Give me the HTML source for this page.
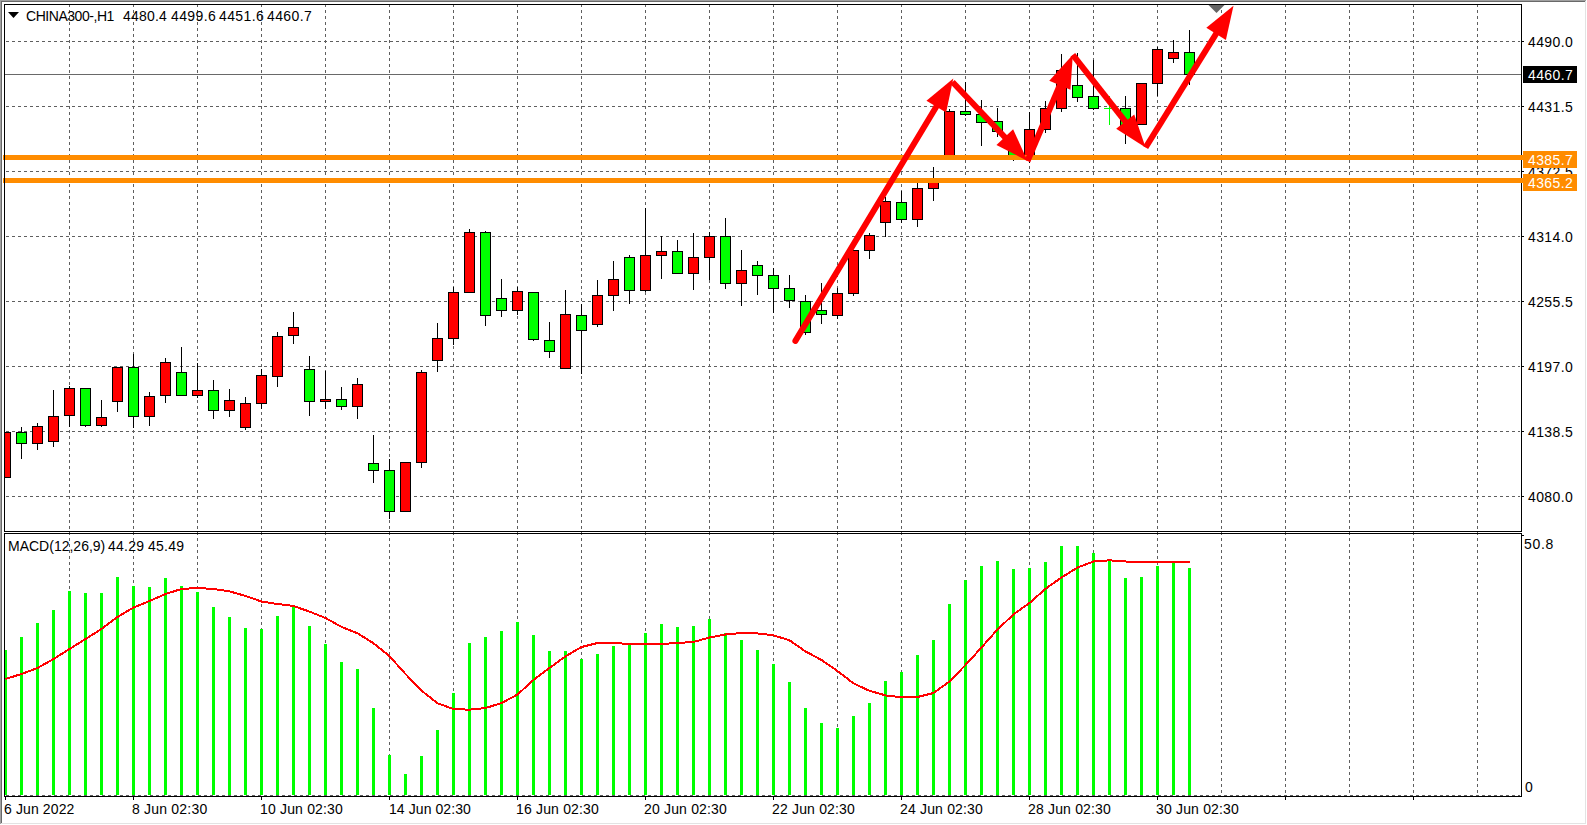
<!DOCTYPE html><html><head><meta charset="utf-8"><style>html,body{margin:0;padding:0;background:#fff;width:1587px;height:825px;overflow:hidden;position:relative}svg text{font-family:"Liberation Sans",sans-serif}</style></head><body><svg width="1587" height="825" viewBox="0 0 1587 825" shape-rendering="crispEdges" style="position:absolute;left:0;top:0">
<rect x="0" y="0" width="1587" height="825" fill="#fff"/>
<rect x="0" y="0" width="1586" height="1" fill="#a0a0a0"/>
<rect x="0" y="0" width="1" height="824" fill="#a0a0a0"/>
<rect x="1" y="1" width="1584" height="1" fill="#696969"/>
<rect x="1" y="1" width="1" height="822" fill="#696969"/>
<rect x="1" y="823" width="1585" height="1" fill="#e3e3e3"/>
<rect x="1585" y="1" width="1" height="823" fill="#e3e3e3"/>
<defs><clipPath id="cm"><rect x="5" y="5" width="1516" height="526"/></clipPath><clipPath id="cd"><rect x="5" y="534" width="1516" height="262"/></clipPath></defs>
<g clip-path="url(#cm)">
<path d="M6 41h3v1h-3zM12 41h3v1h-3zM18 41h3v1h-3zM24 41h3v1h-3zM30 41h3v1h-3zM36 41h3v1h-3zM42 41h3v1h-3zM48 41h3v1h-3zM54 41h3v1h-3zM60 41h3v1h-3zM66 41h3v1h-3zM72 41h3v1h-3zM78 41h3v1h-3zM84 41h3v1h-3zM90 41h3v1h-3zM96 41h3v1h-3zM102 41h3v1h-3zM108 41h3v1h-3zM114 41h3v1h-3zM120 41h3v1h-3zM126 41h3v1h-3zM132 41h3v1h-3zM138 41h3v1h-3zM144 41h3v1h-3zM150 41h3v1h-3zM156 41h3v1h-3zM162 41h3v1h-3zM168 41h3v1h-3zM174 41h3v1h-3zM180 41h3v1h-3zM186 41h3v1h-3zM192 41h3v1h-3zM198 41h3v1h-3zM204 41h3v1h-3zM210 41h3v1h-3zM216 41h3v1h-3zM222 41h3v1h-3zM228 41h3v1h-3zM234 41h3v1h-3zM240 41h3v1h-3zM246 41h3v1h-3zM252 41h3v1h-3zM258 41h3v1h-3zM264 41h3v1h-3zM270 41h3v1h-3zM276 41h3v1h-3zM282 41h3v1h-3zM288 41h3v1h-3zM294 41h3v1h-3zM300 41h3v1h-3zM306 41h3v1h-3zM312 41h3v1h-3zM318 41h3v1h-3zM324 41h3v1h-3zM330 41h3v1h-3zM336 41h3v1h-3zM342 41h3v1h-3zM348 41h3v1h-3zM354 41h3v1h-3zM360 41h3v1h-3zM366 41h3v1h-3zM372 41h3v1h-3zM378 41h3v1h-3zM384 41h3v1h-3zM390 41h3v1h-3zM396 41h3v1h-3zM402 41h3v1h-3zM408 41h3v1h-3zM414 41h3v1h-3zM420 41h3v1h-3zM426 41h3v1h-3zM432 41h3v1h-3zM438 41h3v1h-3zM444 41h3v1h-3zM450 41h3v1h-3zM456 41h3v1h-3zM462 41h3v1h-3zM468 41h3v1h-3zM474 41h3v1h-3zM480 41h3v1h-3zM486 41h3v1h-3zM492 41h3v1h-3zM498 41h3v1h-3zM504 41h3v1h-3zM510 41h3v1h-3zM516 41h3v1h-3zM522 41h3v1h-3zM528 41h3v1h-3zM534 41h3v1h-3zM540 41h3v1h-3zM546 41h3v1h-3zM552 41h3v1h-3zM558 41h3v1h-3zM564 41h3v1h-3zM570 41h3v1h-3zM576 41h3v1h-3zM582 41h3v1h-3zM588 41h3v1h-3zM594 41h3v1h-3zM600 41h3v1h-3zM606 41h3v1h-3zM612 41h3v1h-3zM618 41h3v1h-3zM624 41h3v1h-3zM630 41h3v1h-3zM636 41h3v1h-3zM642 41h3v1h-3zM648 41h3v1h-3zM654 41h3v1h-3zM660 41h3v1h-3zM666 41h3v1h-3zM672 41h3v1h-3zM678 41h3v1h-3zM684 41h3v1h-3zM690 41h3v1h-3zM696 41h3v1h-3zM702 41h3v1h-3zM708 41h3v1h-3zM714 41h3v1h-3zM720 41h3v1h-3zM726 41h3v1h-3zM732 41h3v1h-3zM738 41h3v1h-3zM744 41h3v1h-3zM750 41h3v1h-3zM756 41h3v1h-3zM762 41h3v1h-3zM768 41h3v1h-3zM774 41h3v1h-3zM780 41h3v1h-3zM786 41h3v1h-3zM792 41h3v1h-3zM798 41h3v1h-3zM804 41h3v1h-3zM810 41h3v1h-3zM816 41h3v1h-3zM822 41h3v1h-3zM828 41h3v1h-3zM834 41h3v1h-3zM840 41h3v1h-3zM846 41h3v1h-3zM852 41h3v1h-3zM858 41h3v1h-3zM864 41h3v1h-3zM870 41h3v1h-3zM876 41h3v1h-3zM882 41h3v1h-3zM888 41h3v1h-3zM894 41h3v1h-3zM900 41h3v1h-3zM906 41h3v1h-3zM912 41h3v1h-3zM918 41h3v1h-3zM924 41h3v1h-3zM930 41h3v1h-3zM936 41h3v1h-3zM942 41h3v1h-3zM948 41h3v1h-3zM954 41h3v1h-3zM960 41h3v1h-3zM966 41h3v1h-3zM972 41h3v1h-3zM978 41h3v1h-3zM984 41h3v1h-3zM990 41h3v1h-3zM996 41h3v1h-3zM1002 41h3v1h-3zM1008 41h3v1h-3zM1014 41h3v1h-3zM1020 41h3v1h-3zM1026 41h3v1h-3zM1032 41h3v1h-3zM1038 41h3v1h-3zM1044 41h3v1h-3zM1050 41h3v1h-3zM1056 41h3v1h-3zM1062 41h3v1h-3zM1068 41h3v1h-3zM1074 41h3v1h-3zM1080 41h3v1h-3zM1086 41h3v1h-3zM1092 41h3v1h-3zM1098 41h3v1h-3zM1104 41h3v1h-3zM1110 41h3v1h-3zM1116 41h3v1h-3zM1122 41h3v1h-3zM1128 41h3v1h-3zM1134 41h3v1h-3zM1140 41h3v1h-3zM1146 41h3v1h-3zM1152 41h3v1h-3zM1158 41h3v1h-3zM1164 41h3v1h-3zM1170 41h3v1h-3zM1176 41h3v1h-3zM1182 41h3v1h-3zM1188 41h3v1h-3zM1194 41h3v1h-3zM1200 41h3v1h-3zM1206 41h3v1h-3zM1212 41h3v1h-3zM1218 41h3v1h-3zM1224 41h3v1h-3zM1230 41h3v1h-3zM1236 41h3v1h-3zM1242 41h3v1h-3zM1248 41h3v1h-3zM1254 41h3v1h-3zM1260 41h3v1h-3zM1266 41h3v1h-3zM1272 41h3v1h-3zM1278 41h3v1h-3zM1284 41h3v1h-3zM1290 41h3v1h-3zM1296 41h3v1h-3zM1302 41h3v1h-3zM1308 41h3v1h-3zM1314 41h3v1h-3zM1320 41h3v1h-3zM1326 41h3v1h-3zM1332 41h3v1h-3zM1338 41h3v1h-3zM1344 41h3v1h-3zM1350 41h3v1h-3zM1356 41h3v1h-3zM1362 41h3v1h-3zM1368 41h3v1h-3zM1374 41h3v1h-3zM1380 41h3v1h-3zM1386 41h3v1h-3zM1392 41h3v1h-3zM1398 41h3v1h-3zM1404 41h3v1h-3zM1410 41h3v1h-3zM1416 41h3v1h-3zM1422 41h3v1h-3zM1428 41h3v1h-3zM1434 41h3v1h-3zM1440 41h3v1h-3zM1446 41h3v1h-3zM1452 41h3v1h-3zM1458 41h3v1h-3zM1464 41h3v1h-3zM1470 41h3v1h-3zM1476 41h3v1h-3zM1482 41h3v1h-3zM1488 41h3v1h-3zM1494 41h3v1h-3zM1500 41h3v1h-3zM1506 41h3v1h-3zM1512 41h3v1h-3zM1518 41h2v1h-2z" fill="#5f5f5f"/>
<path d="M6 106h3v1h-3zM12 106h3v1h-3zM18 106h3v1h-3zM24 106h3v1h-3zM30 106h3v1h-3zM36 106h3v1h-3zM42 106h3v1h-3zM48 106h3v1h-3zM54 106h3v1h-3zM60 106h3v1h-3zM66 106h3v1h-3zM72 106h3v1h-3zM78 106h3v1h-3zM84 106h3v1h-3zM90 106h3v1h-3zM96 106h3v1h-3zM102 106h3v1h-3zM108 106h3v1h-3zM114 106h3v1h-3zM120 106h3v1h-3zM126 106h3v1h-3zM132 106h3v1h-3zM138 106h3v1h-3zM144 106h3v1h-3zM150 106h3v1h-3zM156 106h3v1h-3zM162 106h3v1h-3zM168 106h3v1h-3zM174 106h3v1h-3zM180 106h3v1h-3zM186 106h3v1h-3zM192 106h3v1h-3zM198 106h3v1h-3zM204 106h3v1h-3zM210 106h3v1h-3zM216 106h3v1h-3zM222 106h3v1h-3zM228 106h3v1h-3zM234 106h3v1h-3zM240 106h3v1h-3zM246 106h3v1h-3zM252 106h3v1h-3zM258 106h3v1h-3zM264 106h3v1h-3zM270 106h3v1h-3zM276 106h3v1h-3zM282 106h3v1h-3zM288 106h3v1h-3zM294 106h3v1h-3zM300 106h3v1h-3zM306 106h3v1h-3zM312 106h3v1h-3zM318 106h3v1h-3zM324 106h3v1h-3zM330 106h3v1h-3zM336 106h3v1h-3zM342 106h3v1h-3zM348 106h3v1h-3zM354 106h3v1h-3zM360 106h3v1h-3zM366 106h3v1h-3zM372 106h3v1h-3zM378 106h3v1h-3zM384 106h3v1h-3zM390 106h3v1h-3zM396 106h3v1h-3zM402 106h3v1h-3zM408 106h3v1h-3zM414 106h3v1h-3zM420 106h3v1h-3zM426 106h3v1h-3zM432 106h3v1h-3zM438 106h3v1h-3zM444 106h3v1h-3zM450 106h3v1h-3zM456 106h3v1h-3zM462 106h3v1h-3zM468 106h3v1h-3zM474 106h3v1h-3zM480 106h3v1h-3zM486 106h3v1h-3zM492 106h3v1h-3zM498 106h3v1h-3zM504 106h3v1h-3zM510 106h3v1h-3zM516 106h3v1h-3zM522 106h3v1h-3zM528 106h3v1h-3zM534 106h3v1h-3zM540 106h3v1h-3zM546 106h3v1h-3zM552 106h3v1h-3zM558 106h3v1h-3zM564 106h3v1h-3zM570 106h3v1h-3zM576 106h3v1h-3zM582 106h3v1h-3zM588 106h3v1h-3zM594 106h3v1h-3zM600 106h3v1h-3zM606 106h3v1h-3zM612 106h3v1h-3zM618 106h3v1h-3zM624 106h3v1h-3zM630 106h3v1h-3zM636 106h3v1h-3zM642 106h3v1h-3zM648 106h3v1h-3zM654 106h3v1h-3zM660 106h3v1h-3zM666 106h3v1h-3zM672 106h3v1h-3zM678 106h3v1h-3zM684 106h3v1h-3zM690 106h3v1h-3zM696 106h3v1h-3zM702 106h3v1h-3zM708 106h3v1h-3zM714 106h3v1h-3zM720 106h3v1h-3zM726 106h3v1h-3zM732 106h3v1h-3zM738 106h3v1h-3zM744 106h3v1h-3zM750 106h3v1h-3zM756 106h3v1h-3zM762 106h3v1h-3zM768 106h3v1h-3zM774 106h3v1h-3zM780 106h3v1h-3zM786 106h3v1h-3zM792 106h3v1h-3zM798 106h3v1h-3zM804 106h3v1h-3zM810 106h3v1h-3zM816 106h3v1h-3zM822 106h3v1h-3zM828 106h3v1h-3zM834 106h3v1h-3zM840 106h3v1h-3zM846 106h3v1h-3zM852 106h3v1h-3zM858 106h3v1h-3zM864 106h3v1h-3zM870 106h3v1h-3zM876 106h3v1h-3zM882 106h3v1h-3zM888 106h3v1h-3zM894 106h3v1h-3zM900 106h3v1h-3zM906 106h3v1h-3zM912 106h3v1h-3zM918 106h3v1h-3zM924 106h3v1h-3zM930 106h3v1h-3zM936 106h3v1h-3zM942 106h3v1h-3zM948 106h3v1h-3zM954 106h3v1h-3zM960 106h3v1h-3zM966 106h3v1h-3zM972 106h3v1h-3zM978 106h3v1h-3zM984 106h3v1h-3zM990 106h3v1h-3zM996 106h3v1h-3zM1002 106h3v1h-3zM1008 106h3v1h-3zM1014 106h3v1h-3zM1020 106h3v1h-3zM1026 106h3v1h-3zM1032 106h3v1h-3zM1038 106h3v1h-3zM1044 106h3v1h-3zM1050 106h3v1h-3zM1056 106h3v1h-3zM1062 106h3v1h-3zM1068 106h3v1h-3zM1074 106h3v1h-3zM1080 106h3v1h-3zM1086 106h3v1h-3zM1092 106h3v1h-3zM1098 106h3v1h-3zM1104 106h3v1h-3zM1110 106h3v1h-3zM1116 106h3v1h-3zM1122 106h3v1h-3zM1128 106h3v1h-3zM1134 106h3v1h-3zM1140 106h3v1h-3zM1146 106h3v1h-3zM1152 106h3v1h-3zM1158 106h3v1h-3zM1164 106h3v1h-3zM1170 106h3v1h-3zM1176 106h3v1h-3zM1182 106h3v1h-3zM1188 106h3v1h-3zM1194 106h3v1h-3zM1200 106h3v1h-3zM1206 106h3v1h-3zM1212 106h3v1h-3zM1218 106h3v1h-3zM1224 106h3v1h-3zM1230 106h3v1h-3zM1236 106h3v1h-3zM1242 106h3v1h-3zM1248 106h3v1h-3zM1254 106h3v1h-3zM1260 106h3v1h-3zM1266 106h3v1h-3zM1272 106h3v1h-3zM1278 106h3v1h-3zM1284 106h3v1h-3zM1290 106h3v1h-3zM1296 106h3v1h-3zM1302 106h3v1h-3zM1308 106h3v1h-3zM1314 106h3v1h-3zM1320 106h3v1h-3zM1326 106h3v1h-3zM1332 106h3v1h-3zM1338 106h3v1h-3zM1344 106h3v1h-3zM1350 106h3v1h-3zM1356 106h3v1h-3zM1362 106h3v1h-3zM1368 106h3v1h-3zM1374 106h3v1h-3zM1380 106h3v1h-3zM1386 106h3v1h-3zM1392 106h3v1h-3zM1398 106h3v1h-3zM1404 106h3v1h-3zM1410 106h3v1h-3zM1416 106h3v1h-3zM1422 106h3v1h-3zM1428 106h3v1h-3zM1434 106h3v1h-3zM1440 106h3v1h-3zM1446 106h3v1h-3zM1452 106h3v1h-3zM1458 106h3v1h-3zM1464 106h3v1h-3zM1470 106h3v1h-3zM1476 106h3v1h-3zM1482 106h3v1h-3zM1488 106h3v1h-3zM1494 106h3v1h-3zM1500 106h3v1h-3zM1506 106h3v1h-3zM1512 106h3v1h-3zM1518 106h2v1h-2z" fill="#5f5f5f"/>
<path d="M6 171h3v1h-3zM12 171h3v1h-3zM18 171h3v1h-3zM24 171h3v1h-3zM30 171h3v1h-3zM36 171h3v1h-3zM42 171h3v1h-3zM48 171h3v1h-3zM54 171h3v1h-3zM60 171h3v1h-3zM66 171h3v1h-3zM72 171h3v1h-3zM78 171h3v1h-3zM84 171h3v1h-3zM90 171h3v1h-3zM96 171h3v1h-3zM102 171h3v1h-3zM108 171h3v1h-3zM114 171h3v1h-3zM120 171h3v1h-3zM126 171h3v1h-3zM132 171h3v1h-3zM138 171h3v1h-3zM144 171h3v1h-3zM150 171h3v1h-3zM156 171h3v1h-3zM162 171h3v1h-3zM168 171h3v1h-3zM174 171h3v1h-3zM180 171h3v1h-3zM186 171h3v1h-3zM192 171h3v1h-3zM198 171h3v1h-3zM204 171h3v1h-3zM210 171h3v1h-3zM216 171h3v1h-3zM222 171h3v1h-3zM228 171h3v1h-3zM234 171h3v1h-3zM240 171h3v1h-3zM246 171h3v1h-3zM252 171h3v1h-3zM258 171h3v1h-3zM264 171h3v1h-3zM270 171h3v1h-3zM276 171h3v1h-3zM282 171h3v1h-3zM288 171h3v1h-3zM294 171h3v1h-3zM300 171h3v1h-3zM306 171h3v1h-3zM312 171h3v1h-3zM318 171h3v1h-3zM324 171h3v1h-3zM330 171h3v1h-3zM336 171h3v1h-3zM342 171h3v1h-3zM348 171h3v1h-3zM354 171h3v1h-3zM360 171h3v1h-3zM366 171h3v1h-3zM372 171h3v1h-3zM378 171h3v1h-3zM384 171h3v1h-3zM390 171h3v1h-3zM396 171h3v1h-3zM402 171h3v1h-3zM408 171h3v1h-3zM414 171h3v1h-3zM420 171h3v1h-3zM426 171h3v1h-3zM432 171h3v1h-3zM438 171h3v1h-3zM444 171h3v1h-3zM450 171h3v1h-3zM456 171h3v1h-3zM462 171h3v1h-3zM468 171h3v1h-3zM474 171h3v1h-3zM480 171h3v1h-3zM486 171h3v1h-3zM492 171h3v1h-3zM498 171h3v1h-3zM504 171h3v1h-3zM510 171h3v1h-3zM516 171h3v1h-3zM522 171h3v1h-3zM528 171h3v1h-3zM534 171h3v1h-3zM540 171h3v1h-3zM546 171h3v1h-3zM552 171h3v1h-3zM558 171h3v1h-3zM564 171h3v1h-3zM570 171h3v1h-3zM576 171h3v1h-3zM582 171h3v1h-3zM588 171h3v1h-3zM594 171h3v1h-3zM600 171h3v1h-3zM606 171h3v1h-3zM612 171h3v1h-3zM618 171h3v1h-3zM624 171h3v1h-3zM630 171h3v1h-3zM636 171h3v1h-3zM642 171h3v1h-3zM648 171h3v1h-3zM654 171h3v1h-3zM660 171h3v1h-3zM666 171h3v1h-3zM672 171h3v1h-3zM678 171h3v1h-3zM684 171h3v1h-3zM690 171h3v1h-3zM696 171h3v1h-3zM702 171h3v1h-3zM708 171h3v1h-3zM714 171h3v1h-3zM720 171h3v1h-3zM726 171h3v1h-3zM732 171h3v1h-3zM738 171h3v1h-3zM744 171h3v1h-3zM750 171h3v1h-3zM756 171h3v1h-3zM762 171h3v1h-3zM768 171h3v1h-3zM774 171h3v1h-3zM780 171h3v1h-3zM786 171h3v1h-3zM792 171h3v1h-3zM798 171h3v1h-3zM804 171h3v1h-3zM810 171h3v1h-3zM816 171h3v1h-3zM822 171h3v1h-3zM828 171h3v1h-3zM834 171h3v1h-3zM840 171h3v1h-3zM846 171h3v1h-3zM852 171h3v1h-3zM858 171h3v1h-3zM864 171h3v1h-3zM870 171h3v1h-3zM876 171h3v1h-3zM882 171h3v1h-3zM888 171h3v1h-3zM894 171h3v1h-3zM900 171h3v1h-3zM906 171h3v1h-3zM912 171h3v1h-3zM918 171h3v1h-3zM924 171h3v1h-3zM930 171h3v1h-3zM936 171h3v1h-3zM942 171h3v1h-3zM948 171h3v1h-3zM954 171h3v1h-3zM960 171h3v1h-3zM966 171h3v1h-3zM972 171h3v1h-3zM978 171h3v1h-3zM984 171h3v1h-3zM990 171h3v1h-3zM996 171h3v1h-3zM1002 171h3v1h-3zM1008 171h3v1h-3zM1014 171h3v1h-3zM1020 171h3v1h-3zM1026 171h3v1h-3zM1032 171h3v1h-3zM1038 171h3v1h-3zM1044 171h3v1h-3zM1050 171h3v1h-3zM1056 171h3v1h-3zM1062 171h3v1h-3zM1068 171h3v1h-3zM1074 171h3v1h-3zM1080 171h3v1h-3zM1086 171h3v1h-3zM1092 171h3v1h-3zM1098 171h3v1h-3zM1104 171h3v1h-3zM1110 171h3v1h-3zM1116 171h3v1h-3zM1122 171h3v1h-3zM1128 171h3v1h-3zM1134 171h3v1h-3zM1140 171h3v1h-3zM1146 171h3v1h-3zM1152 171h3v1h-3zM1158 171h3v1h-3zM1164 171h3v1h-3zM1170 171h3v1h-3zM1176 171h3v1h-3zM1182 171h3v1h-3zM1188 171h3v1h-3zM1194 171h3v1h-3zM1200 171h3v1h-3zM1206 171h3v1h-3zM1212 171h3v1h-3zM1218 171h3v1h-3zM1224 171h3v1h-3zM1230 171h3v1h-3zM1236 171h3v1h-3zM1242 171h3v1h-3zM1248 171h3v1h-3zM1254 171h3v1h-3zM1260 171h3v1h-3zM1266 171h3v1h-3zM1272 171h3v1h-3zM1278 171h3v1h-3zM1284 171h3v1h-3zM1290 171h3v1h-3zM1296 171h3v1h-3zM1302 171h3v1h-3zM1308 171h3v1h-3zM1314 171h3v1h-3zM1320 171h3v1h-3zM1326 171h3v1h-3zM1332 171h3v1h-3zM1338 171h3v1h-3zM1344 171h3v1h-3zM1350 171h3v1h-3zM1356 171h3v1h-3zM1362 171h3v1h-3zM1368 171h3v1h-3zM1374 171h3v1h-3zM1380 171h3v1h-3zM1386 171h3v1h-3zM1392 171h3v1h-3zM1398 171h3v1h-3zM1404 171h3v1h-3zM1410 171h3v1h-3zM1416 171h3v1h-3zM1422 171h3v1h-3zM1428 171h3v1h-3zM1434 171h3v1h-3zM1440 171h3v1h-3zM1446 171h3v1h-3zM1452 171h3v1h-3zM1458 171h3v1h-3zM1464 171h3v1h-3zM1470 171h3v1h-3zM1476 171h3v1h-3zM1482 171h3v1h-3zM1488 171h3v1h-3zM1494 171h3v1h-3zM1500 171h3v1h-3zM1506 171h3v1h-3zM1512 171h3v1h-3zM1518 171h2v1h-2z" fill="#5f5f5f"/>
<path d="M6 236h3v1h-3zM12 236h3v1h-3zM18 236h3v1h-3zM24 236h3v1h-3zM30 236h3v1h-3zM36 236h3v1h-3zM42 236h3v1h-3zM48 236h3v1h-3zM54 236h3v1h-3zM60 236h3v1h-3zM66 236h3v1h-3zM72 236h3v1h-3zM78 236h3v1h-3zM84 236h3v1h-3zM90 236h3v1h-3zM96 236h3v1h-3zM102 236h3v1h-3zM108 236h3v1h-3zM114 236h3v1h-3zM120 236h3v1h-3zM126 236h3v1h-3zM132 236h3v1h-3zM138 236h3v1h-3zM144 236h3v1h-3zM150 236h3v1h-3zM156 236h3v1h-3zM162 236h3v1h-3zM168 236h3v1h-3zM174 236h3v1h-3zM180 236h3v1h-3zM186 236h3v1h-3zM192 236h3v1h-3zM198 236h3v1h-3zM204 236h3v1h-3zM210 236h3v1h-3zM216 236h3v1h-3zM222 236h3v1h-3zM228 236h3v1h-3zM234 236h3v1h-3zM240 236h3v1h-3zM246 236h3v1h-3zM252 236h3v1h-3zM258 236h3v1h-3zM264 236h3v1h-3zM270 236h3v1h-3zM276 236h3v1h-3zM282 236h3v1h-3zM288 236h3v1h-3zM294 236h3v1h-3zM300 236h3v1h-3zM306 236h3v1h-3zM312 236h3v1h-3zM318 236h3v1h-3zM324 236h3v1h-3zM330 236h3v1h-3zM336 236h3v1h-3zM342 236h3v1h-3zM348 236h3v1h-3zM354 236h3v1h-3zM360 236h3v1h-3zM366 236h3v1h-3zM372 236h3v1h-3zM378 236h3v1h-3zM384 236h3v1h-3zM390 236h3v1h-3zM396 236h3v1h-3zM402 236h3v1h-3zM408 236h3v1h-3zM414 236h3v1h-3zM420 236h3v1h-3zM426 236h3v1h-3zM432 236h3v1h-3zM438 236h3v1h-3zM444 236h3v1h-3zM450 236h3v1h-3zM456 236h3v1h-3zM462 236h3v1h-3zM468 236h3v1h-3zM474 236h3v1h-3zM480 236h3v1h-3zM486 236h3v1h-3zM492 236h3v1h-3zM498 236h3v1h-3zM504 236h3v1h-3zM510 236h3v1h-3zM516 236h3v1h-3zM522 236h3v1h-3zM528 236h3v1h-3zM534 236h3v1h-3zM540 236h3v1h-3zM546 236h3v1h-3zM552 236h3v1h-3zM558 236h3v1h-3zM564 236h3v1h-3zM570 236h3v1h-3zM576 236h3v1h-3zM582 236h3v1h-3zM588 236h3v1h-3zM594 236h3v1h-3zM600 236h3v1h-3zM606 236h3v1h-3zM612 236h3v1h-3zM618 236h3v1h-3zM624 236h3v1h-3zM630 236h3v1h-3zM636 236h3v1h-3zM642 236h3v1h-3zM648 236h3v1h-3zM654 236h3v1h-3zM660 236h3v1h-3zM666 236h3v1h-3zM672 236h3v1h-3zM678 236h3v1h-3zM684 236h3v1h-3zM690 236h3v1h-3zM696 236h3v1h-3zM702 236h3v1h-3zM708 236h3v1h-3zM714 236h3v1h-3zM720 236h3v1h-3zM726 236h3v1h-3zM732 236h3v1h-3zM738 236h3v1h-3zM744 236h3v1h-3zM750 236h3v1h-3zM756 236h3v1h-3zM762 236h3v1h-3zM768 236h3v1h-3zM774 236h3v1h-3zM780 236h3v1h-3zM786 236h3v1h-3zM792 236h3v1h-3zM798 236h3v1h-3zM804 236h3v1h-3zM810 236h3v1h-3zM816 236h3v1h-3zM822 236h3v1h-3zM828 236h3v1h-3zM834 236h3v1h-3zM840 236h3v1h-3zM846 236h3v1h-3zM852 236h3v1h-3zM858 236h3v1h-3zM864 236h3v1h-3zM870 236h3v1h-3zM876 236h3v1h-3zM882 236h3v1h-3zM888 236h3v1h-3zM894 236h3v1h-3zM900 236h3v1h-3zM906 236h3v1h-3zM912 236h3v1h-3zM918 236h3v1h-3zM924 236h3v1h-3zM930 236h3v1h-3zM936 236h3v1h-3zM942 236h3v1h-3zM948 236h3v1h-3zM954 236h3v1h-3zM960 236h3v1h-3zM966 236h3v1h-3zM972 236h3v1h-3zM978 236h3v1h-3zM984 236h3v1h-3zM990 236h3v1h-3zM996 236h3v1h-3zM1002 236h3v1h-3zM1008 236h3v1h-3zM1014 236h3v1h-3zM1020 236h3v1h-3zM1026 236h3v1h-3zM1032 236h3v1h-3zM1038 236h3v1h-3zM1044 236h3v1h-3zM1050 236h3v1h-3zM1056 236h3v1h-3zM1062 236h3v1h-3zM1068 236h3v1h-3zM1074 236h3v1h-3zM1080 236h3v1h-3zM1086 236h3v1h-3zM1092 236h3v1h-3zM1098 236h3v1h-3zM1104 236h3v1h-3zM1110 236h3v1h-3zM1116 236h3v1h-3zM1122 236h3v1h-3zM1128 236h3v1h-3zM1134 236h3v1h-3zM1140 236h3v1h-3zM1146 236h3v1h-3zM1152 236h3v1h-3zM1158 236h3v1h-3zM1164 236h3v1h-3zM1170 236h3v1h-3zM1176 236h3v1h-3zM1182 236h3v1h-3zM1188 236h3v1h-3zM1194 236h3v1h-3zM1200 236h3v1h-3zM1206 236h3v1h-3zM1212 236h3v1h-3zM1218 236h3v1h-3zM1224 236h3v1h-3zM1230 236h3v1h-3zM1236 236h3v1h-3zM1242 236h3v1h-3zM1248 236h3v1h-3zM1254 236h3v1h-3zM1260 236h3v1h-3zM1266 236h3v1h-3zM1272 236h3v1h-3zM1278 236h3v1h-3zM1284 236h3v1h-3zM1290 236h3v1h-3zM1296 236h3v1h-3zM1302 236h3v1h-3zM1308 236h3v1h-3zM1314 236h3v1h-3zM1320 236h3v1h-3zM1326 236h3v1h-3zM1332 236h3v1h-3zM1338 236h3v1h-3zM1344 236h3v1h-3zM1350 236h3v1h-3zM1356 236h3v1h-3zM1362 236h3v1h-3zM1368 236h3v1h-3zM1374 236h3v1h-3zM1380 236h3v1h-3zM1386 236h3v1h-3zM1392 236h3v1h-3zM1398 236h3v1h-3zM1404 236h3v1h-3zM1410 236h3v1h-3zM1416 236h3v1h-3zM1422 236h3v1h-3zM1428 236h3v1h-3zM1434 236h3v1h-3zM1440 236h3v1h-3zM1446 236h3v1h-3zM1452 236h3v1h-3zM1458 236h3v1h-3zM1464 236h3v1h-3zM1470 236h3v1h-3zM1476 236h3v1h-3zM1482 236h3v1h-3zM1488 236h3v1h-3zM1494 236h3v1h-3zM1500 236h3v1h-3zM1506 236h3v1h-3zM1512 236h3v1h-3zM1518 236h2v1h-2z" fill="#5f5f5f"/>
<path d="M6 301h3v1h-3zM12 301h3v1h-3zM18 301h3v1h-3zM24 301h3v1h-3zM30 301h3v1h-3zM36 301h3v1h-3zM42 301h3v1h-3zM48 301h3v1h-3zM54 301h3v1h-3zM60 301h3v1h-3zM66 301h3v1h-3zM72 301h3v1h-3zM78 301h3v1h-3zM84 301h3v1h-3zM90 301h3v1h-3zM96 301h3v1h-3zM102 301h3v1h-3zM108 301h3v1h-3zM114 301h3v1h-3zM120 301h3v1h-3zM126 301h3v1h-3zM132 301h3v1h-3zM138 301h3v1h-3zM144 301h3v1h-3zM150 301h3v1h-3zM156 301h3v1h-3zM162 301h3v1h-3zM168 301h3v1h-3zM174 301h3v1h-3zM180 301h3v1h-3zM186 301h3v1h-3zM192 301h3v1h-3zM198 301h3v1h-3zM204 301h3v1h-3zM210 301h3v1h-3zM216 301h3v1h-3zM222 301h3v1h-3zM228 301h3v1h-3zM234 301h3v1h-3zM240 301h3v1h-3zM246 301h3v1h-3zM252 301h3v1h-3zM258 301h3v1h-3zM264 301h3v1h-3zM270 301h3v1h-3zM276 301h3v1h-3zM282 301h3v1h-3zM288 301h3v1h-3zM294 301h3v1h-3zM300 301h3v1h-3zM306 301h3v1h-3zM312 301h3v1h-3zM318 301h3v1h-3zM324 301h3v1h-3zM330 301h3v1h-3zM336 301h3v1h-3zM342 301h3v1h-3zM348 301h3v1h-3zM354 301h3v1h-3zM360 301h3v1h-3zM366 301h3v1h-3zM372 301h3v1h-3zM378 301h3v1h-3zM384 301h3v1h-3zM390 301h3v1h-3zM396 301h3v1h-3zM402 301h3v1h-3zM408 301h3v1h-3zM414 301h3v1h-3zM420 301h3v1h-3zM426 301h3v1h-3zM432 301h3v1h-3zM438 301h3v1h-3zM444 301h3v1h-3zM450 301h3v1h-3zM456 301h3v1h-3zM462 301h3v1h-3zM468 301h3v1h-3zM474 301h3v1h-3zM480 301h3v1h-3zM486 301h3v1h-3zM492 301h3v1h-3zM498 301h3v1h-3zM504 301h3v1h-3zM510 301h3v1h-3zM516 301h3v1h-3zM522 301h3v1h-3zM528 301h3v1h-3zM534 301h3v1h-3zM540 301h3v1h-3zM546 301h3v1h-3zM552 301h3v1h-3zM558 301h3v1h-3zM564 301h3v1h-3zM570 301h3v1h-3zM576 301h3v1h-3zM582 301h3v1h-3zM588 301h3v1h-3zM594 301h3v1h-3zM600 301h3v1h-3zM606 301h3v1h-3zM612 301h3v1h-3zM618 301h3v1h-3zM624 301h3v1h-3zM630 301h3v1h-3zM636 301h3v1h-3zM642 301h3v1h-3zM648 301h3v1h-3zM654 301h3v1h-3zM660 301h3v1h-3zM666 301h3v1h-3zM672 301h3v1h-3zM678 301h3v1h-3zM684 301h3v1h-3zM690 301h3v1h-3zM696 301h3v1h-3zM702 301h3v1h-3zM708 301h3v1h-3zM714 301h3v1h-3zM720 301h3v1h-3zM726 301h3v1h-3zM732 301h3v1h-3zM738 301h3v1h-3zM744 301h3v1h-3zM750 301h3v1h-3zM756 301h3v1h-3zM762 301h3v1h-3zM768 301h3v1h-3zM774 301h3v1h-3zM780 301h3v1h-3zM786 301h3v1h-3zM792 301h3v1h-3zM798 301h3v1h-3zM804 301h3v1h-3zM810 301h3v1h-3zM816 301h3v1h-3zM822 301h3v1h-3zM828 301h3v1h-3zM834 301h3v1h-3zM840 301h3v1h-3zM846 301h3v1h-3zM852 301h3v1h-3zM858 301h3v1h-3zM864 301h3v1h-3zM870 301h3v1h-3zM876 301h3v1h-3zM882 301h3v1h-3zM888 301h3v1h-3zM894 301h3v1h-3zM900 301h3v1h-3zM906 301h3v1h-3zM912 301h3v1h-3zM918 301h3v1h-3zM924 301h3v1h-3zM930 301h3v1h-3zM936 301h3v1h-3zM942 301h3v1h-3zM948 301h3v1h-3zM954 301h3v1h-3zM960 301h3v1h-3zM966 301h3v1h-3zM972 301h3v1h-3zM978 301h3v1h-3zM984 301h3v1h-3zM990 301h3v1h-3zM996 301h3v1h-3zM1002 301h3v1h-3zM1008 301h3v1h-3zM1014 301h3v1h-3zM1020 301h3v1h-3zM1026 301h3v1h-3zM1032 301h3v1h-3zM1038 301h3v1h-3zM1044 301h3v1h-3zM1050 301h3v1h-3zM1056 301h3v1h-3zM1062 301h3v1h-3zM1068 301h3v1h-3zM1074 301h3v1h-3zM1080 301h3v1h-3zM1086 301h3v1h-3zM1092 301h3v1h-3zM1098 301h3v1h-3zM1104 301h3v1h-3zM1110 301h3v1h-3zM1116 301h3v1h-3zM1122 301h3v1h-3zM1128 301h3v1h-3zM1134 301h3v1h-3zM1140 301h3v1h-3zM1146 301h3v1h-3zM1152 301h3v1h-3zM1158 301h3v1h-3zM1164 301h3v1h-3zM1170 301h3v1h-3zM1176 301h3v1h-3zM1182 301h3v1h-3zM1188 301h3v1h-3zM1194 301h3v1h-3zM1200 301h3v1h-3zM1206 301h3v1h-3zM1212 301h3v1h-3zM1218 301h3v1h-3zM1224 301h3v1h-3zM1230 301h3v1h-3zM1236 301h3v1h-3zM1242 301h3v1h-3zM1248 301h3v1h-3zM1254 301h3v1h-3zM1260 301h3v1h-3zM1266 301h3v1h-3zM1272 301h3v1h-3zM1278 301h3v1h-3zM1284 301h3v1h-3zM1290 301h3v1h-3zM1296 301h3v1h-3zM1302 301h3v1h-3zM1308 301h3v1h-3zM1314 301h3v1h-3zM1320 301h3v1h-3zM1326 301h3v1h-3zM1332 301h3v1h-3zM1338 301h3v1h-3zM1344 301h3v1h-3zM1350 301h3v1h-3zM1356 301h3v1h-3zM1362 301h3v1h-3zM1368 301h3v1h-3zM1374 301h3v1h-3zM1380 301h3v1h-3zM1386 301h3v1h-3zM1392 301h3v1h-3zM1398 301h3v1h-3zM1404 301h3v1h-3zM1410 301h3v1h-3zM1416 301h3v1h-3zM1422 301h3v1h-3zM1428 301h3v1h-3zM1434 301h3v1h-3zM1440 301h3v1h-3zM1446 301h3v1h-3zM1452 301h3v1h-3zM1458 301h3v1h-3zM1464 301h3v1h-3zM1470 301h3v1h-3zM1476 301h3v1h-3zM1482 301h3v1h-3zM1488 301h3v1h-3zM1494 301h3v1h-3zM1500 301h3v1h-3zM1506 301h3v1h-3zM1512 301h3v1h-3zM1518 301h2v1h-2z" fill="#5f5f5f"/>
<path d="M6 366h3v1h-3zM12 366h3v1h-3zM18 366h3v1h-3zM24 366h3v1h-3zM30 366h3v1h-3zM36 366h3v1h-3zM42 366h3v1h-3zM48 366h3v1h-3zM54 366h3v1h-3zM60 366h3v1h-3zM66 366h3v1h-3zM72 366h3v1h-3zM78 366h3v1h-3zM84 366h3v1h-3zM90 366h3v1h-3zM96 366h3v1h-3zM102 366h3v1h-3zM108 366h3v1h-3zM114 366h3v1h-3zM120 366h3v1h-3zM126 366h3v1h-3zM132 366h3v1h-3zM138 366h3v1h-3zM144 366h3v1h-3zM150 366h3v1h-3zM156 366h3v1h-3zM162 366h3v1h-3zM168 366h3v1h-3zM174 366h3v1h-3zM180 366h3v1h-3zM186 366h3v1h-3zM192 366h3v1h-3zM198 366h3v1h-3zM204 366h3v1h-3zM210 366h3v1h-3zM216 366h3v1h-3zM222 366h3v1h-3zM228 366h3v1h-3zM234 366h3v1h-3zM240 366h3v1h-3zM246 366h3v1h-3zM252 366h3v1h-3zM258 366h3v1h-3zM264 366h3v1h-3zM270 366h3v1h-3zM276 366h3v1h-3zM282 366h3v1h-3zM288 366h3v1h-3zM294 366h3v1h-3zM300 366h3v1h-3zM306 366h3v1h-3zM312 366h3v1h-3zM318 366h3v1h-3zM324 366h3v1h-3zM330 366h3v1h-3zM336 366h3v1h-3zM342 366h3v1h-3zM348 366h3v1h-3zM354 366h3v1h-3zM360 366h3v1h-3zM366 366h3v1h-3zM372 366h3v1h-3zM378 366h3v1h-3zM384 366h3v1h-3zM390 366h3v1h-3zM396 366h3v1h-3zM402 366h3v1h-3zM408 366h3v1h-3zM414 366h3v1h-3zM420 366h3v1h-3zM426 366h3v1h-3zM432 366h3v1h-3zM438 366h3v1h-3zM444 366h3v1h-3zM450 366h3v1h-3zM456 366h3v1h-3zM462 366h3v1h-3zM468 366h3v1h-3zM474 366h3v1h-3zM480 366h3v1h-3zM486 366h3v1h-3zM492 366h3v1h-3zM498 366h3v1h-3zM504 366h3v1h-3zM510 366h3v1h-3zM516 366h3v1h-3zM522 366h3v1h-3zM528 366h3v1h-3zM534 366h3v1h-3zM540 366h3v1h-3zM546 366h3v1h-3zM552 366h3v1h-3zM558 366h3v1h-3zM564 366h3v1h-3zM570 366h3v1h-3zM576 366h3v1h-3zM582 366h3v1h-3zM588 366h3v1h-3zM594 366h3v1h-3zM600 366h3v1h-3zM606 366h3v1h-3zM612 366h3v1h-3zM618 366h3v1h-3zM624 366h3v1h-3zM630 366h3v1h-3zM636 366h3v1h-3zM642 366h3v1h-3zM648 366h3v1h-3zM654 366h3v1h-3zM660 366h3v1h-3zM666 366h3v1h-3zM672 366h3v1h-3zM678 366h3v1h-3zM684 366h3v1h-3zM690 366h3v1h-3zM696 366h3v1h-3zM702 366h3v1h-3zM708 366h3v1h-3zM714 366h3v1h-3zM720 366h3v1h-3zM726 366h3v1h-3zM732 366h3v1h-3zM738 366h3v1h-3zM744 366h3v1h-3zM750 366h3v1h-3zM756 366h3v1h-3zM762 366h3v1h-3zM768 366h3v1h-3zM774 366h3v1h-3zM780 366h3v1h-3zM786 366h3v1h-3zM792 366h3v1h-3zM798 366h3v1h-3zM804 366h3v1h-3zM810 366h3v1h-3zM816 366h3v1h-3zM822 366h3v1h-3zM828 366h3v1h-3zM834 366h3v1h-3zM840 366h3v1h-3zM846 366h3v1h-3zM852 366h3v1h-3zM858 366h3v1h-3zM864 366h3v1h-3zM870 366h3v1h-3zM876 366h3v1h-3zM882 366h3v1h-3zM888 366h3v1h-3zM894 366h3v1h-3zM900 366h3v1h-3zM906 366h3v1h-3zM912 366h3v1h-3zM918 366h3v1h-3zM924 366h3v1h-3zM930 366h3v1h-3zM936 366h3v1h-3zM942 366h3v1h-3zM948 366h3v1h-3zM954 366h3v1h-3zM960 366h3v1h-3zM966 366h3v1h-3zM972 366h3v1h-3zM978 366h3v1h-3zM984 366h3v1h-3zM990 366h3v1h-3zM996 366h3v1h-3zM1002 366h3v1h-3zM1008 366h3v1h-3zM1014 366h3v1h-3zM1020 366h3v1h-3zM1026 366h3v1h-3zM1032 366h3v1h-3zM1038 366h3v1h-3zM1044 366h3v1h-3zM1050 366h3v1h-3zM1056 366h3v1h-3zM1062 366h3v1h-3zM1068 366h3v1h-3zM1074 366h3v1h-3zM1080 366h3v1h-3zM1086 366h3v1h-3zM1092 366h3v1h-3zM1098 366h3v1h-3zM1104 366h3v1h-3zM1110 366h3v1h-3zM1116 366h3v1h-3zM1122 366h3v1h-3zM1128 366h3v1h-3zM1134 366h3v1h-3zM1140 366h3v1h-3zM1146 366h3v1h-3zM1152 366h3v1h-3zM1158 366h3v1h-3zM1164 366h3v1h-3zM1170 366h3v1h-3zM1176 366h3v1h-3zM1182 366h3v1h-3zM1188 366h3v1h-3zM1194 366h3v1h-3zM1200 366h3v1h-3zM1206 366h3v1h-3zM1212 366h3v1h-3zM1218 366h3v1h-3zM1224 366h3v1h-3zM1230 366h3v1h-3zM1236 366h3v1h-3zM1242 366h3v1h-3zM1248 366h3v1h-3zM1254 366h3v1h-3zM1260 366h3v1h-3zM1266 366h3v1h-3zM1272 366h3v1h-3zM1278 366h3v1h-3zM1284 366h3v1h-3zM1290 366h3v1h-3zM1296 366h3v1h-3zM1302 366h3v1h-3zM1308 366h3v1h-3zM1314 366h3v1h-3zM1320 366h3v1h-3zM1326 366h3v1h-3zM1332 366h3v1h-3zM1338 366h3v1h-3zM1344 366h3v1h-3zM1350 366h3v1h-3zM1356 366h3v1h-3zM1362 366h3v1h-3zM1368 366h3v1h-3zM1374 366h3v1h-3zM1380 366h3v1h-3zM1386 366h3v1h-3zM1392 366h3v1h-3zM1398 366h3v1h-3zM1404 366h3v1h-3zM1410 366h3v1h-3zM1416 366h3v1h-3zM1422 366h3v1h-3zM1428 366h3v1h-3zM1434 366h3v1h-3zM1440 366h3v1h-3zM1446 366h3v1h-3zM1452 366h3v1h-3zM1458 366h3v1h-3zM1464 366h3v1h-3zM1470 366h3v1h-3zM1476 366h3v1h-3zM1482 366h3v1h-3zM1488 366h3v1h-3zM1494 366h3v1h-3zM1500 366h3v1h-3zM1506 366h3v1h-3zM1512 366h3v1h-3zM1518 366h2v1h-2z" fill="#5f5f5f"/>
<path d="M6 431h3v1h-3zM12 431h3v1h-3zM18 431h3v1h-3zM24 431h3v1h-3zM30 431h3v1h-3zM36 431h3v1h-3zM42 431h3v1h-3zM48 431h3v1h-3zM54 431h3v1h-3zM60 431h3v1h-3zM66 431h3v1h-3zM72 431h3v1h-3zM78 431h3v1h-3zM84 431h3v1h-3zM90 431h3v1h-3zM96 431h3v1h-3zM102 431h3v1h-3zM108 431h3v1h-3zM114 431h3v1h-3zM120 431h3v1h-3zM126 431h3v1h-3zM132 431h3v1h-3zM138 431h3v1h-3zM144 431h3v1h-3zM150 431h3v1h-3zM156 431h3v1h-3zM162 431h3v1h-3zM168 431h3v1h-3zM174 431h3v1h-3zM180 431h3v1h-3zM186 431h3v1h-3zM192 431h3v1h-3zM198 431h3v1h-3zM204 431h3v1h-3zM210 431h3v1h-3zM216 431h3v1h-3zM222 431h3v1h-3zM228 431h3v1h-3zM234 431h3v1h-3zM240 431h3v1h-3zM246 431h3v1h-3zM252 431h3v1h-3zM258 431h3v1h-3zM264 431h3v1h-3zM270 431h3v1h-3zM276 431h3v1h-3zM282 431h3v1h-3zM288 431h3v1h-3zM294 431h3v1h-3zM300 431h3v1h-3zM306 431h3v1h-3zM312 431h3v1h-3zM318 431h3v1h-3zM324 431h3v1h-3zM330 431h3v1h-3zM336 431h3v1h-3zM342 431h3v1h-3zM348 431h3v1h-3zM354 431h3v1h-3zM360 431h3v1h-3zM366 431h3v1h-3zM372 431h3v1h-3zM378 431h3v1h-3zM384 431h3v1h-3zM390 431h3v1h-3zM396 431h3v1h-3zM402 431h3v1h-3zM408 431h3v1h-3zM414 431h3v1h-3zM420 431h3v1h-3zM426 431h3v1h-3zM432 431h3v1h-3zM438 431h3v1h-3zM444 431h3v1h-3zM450 431h3v1h-3zM456 431h3v1h-3zM462 431h3v1h-3zM468 431h3v1h-3zM474 431h3v1h-3zM480 431h3v1h-3zM486 431h3v1h-3zM492 431h3v1h-3zM498 431h3v1h-3zM504 431h3v1h-3zM510 431h3v1h-3zM516 431h3v1h-3zM522 431h3v1h-3zM528 431h3v1h-3zM534 431h3v1h-3zM540 431h3v1h-3zM546 431h3v1h-3zM552 431h3v1h-3zM558 431h3v1h-3zM564 431h3v1h-3zM570 431h3v1h-3zM576 431h3v1h-3zM582 431h3v1h-3zM588 431h3v1h-3zM594 431h3v1h-3zM600 431h3v1h-3zM606 431h3v1h-3zM612 431h3v1h-3zM618 431h3v1h-3zM624 431h3v1h-3zM630 431h3v1h-3zM636 431h3v1h-3zM642 431h3v1h-3zM648 431h3v1h-3zM654 431h3v1h-3zM660 431h3v1h-3zM666 431h3v1h-3zM672 431h3v1h-3zM678 431h3v1h-3zM684 431h3v1h-3zM690 431h3v1h-3zM696 431h3v1h-3zM702 431h3v1h-3zM708 431h3v1h-3zM714 431h3v1h-3zM720 431h3v1h-3zM726 431h3v1h-3zM732 431h3v1h-3zM738 431h3v1h-3zM744 431h3v1h-3zM750 431h3v1h-3zM756 431h3v1h-3zM762 431h3v1h-3zM768 431h3v1h-3zM774 431h3v1h-3zM780 431h3v1h-3zM786 431h3v1h-3zM792 431h3v1h-3zM798 431h3v1h-3zM804 431h3v1h-3zM810 431h3v1h-3zM816 431h3v1h-3zM822 431h3v1h-3zM828 431h3v1h-3zM834 431h3v1h-3zM840 431h3v1h-3zM846 431h3v1h-3zM852 431h3v1h-3zM858 431h3v1h-3zM864 431h3v1h-3zM870 431h3v1h-3zM876 431h3v1h-3zM882 431h3v1h-3zM888 431h3v1h-3zM894 431h3v1h-3zM900 431h3v1h-3zM906 431h3v1h-3zM912 431h3v1h-3zM918 431h3v1h-3zM924 431h3v1h-3zM930 431h3v1h-3zM936 431h3v1h-3zM942 431h3v1h-3zM948 431h3v1h-3zM954 431h3v1h-3zM960 431h3v1h-3zM966 431h3v1h-3zM972 431h3v1h-3zM978 431h3v1h-3zM984 431h3v1h-3zM990 431h3v1h-3zM996 431h3v1h-3zM1002 431h3v1h-3zM1008 431h3v1h-3zM1014 431h3v1h-3zM1020 431h3v1h-3zM1026 431h3v1h-3zM1032 431h3v1h-3zM1038 431h3v1h-3zM1044 431h3v1h-3zM1050 431h3v1h-3zM1056 431h3v1h-3zM1062 431h3v1h-3zM1068 431h3v1h-3zM1074 431h3v1h-3zM1080 431h3v1h-3zM1086 431h3v1h-3zM1092 431h3v1h-3zM1098 431h3v1h-3zM1104 431h3v1h-3zM1110 431h3v1h-3zM1116 431h3v1h-3zM1122 431h3v1h-3zM1128 431h3v1h-3zM1134 431h3v1h-3zM1140 431h3v1h-3zM1146 431h3v1h-3zM1152 431h3v1h-3zM1158 431h3v1h-3zM1164 431h3v1h-3zM1170 431h3v1h-3zM1176 431h3v1h-3zM1182 431h3v1h-3zM1188 431h3v1h-3zM1194 431h3v1h-3zM1200 431h3v1h-3zM1206 431h3v1h-3zM1212 431h3v1h-3zM1218 431h3v1h-3zM1224 431h3v1h-3zM1230 431h3v1h-3zM1236 431h3v1h-3zM1242 431h3v1h-3zM1248 431h3v1h-3zM1254 431h3v1h-3zM1260 431h3v1h-3zM1266 431h3v1h-3zM1272 431h3v1h-3zM1278 431h3v1h-3zM1284 431h3v1h-3zM1290 431h3v1h-3zM1296 431h3v1h-3zM1302 431h3v1h-3zM1308 431h3v1h-3zM1314 431h3v1h-3zM1320 431h3v1h-3zM1326 431h3v1h-3zM1332 431h3v1h-3zM1338 431h3v1h-3zM1344 431h3v1h-3zM1350 431h3v1h-3zM1356 431h3v1h-3zM1362 431h3v1h-3zM1368 431h3v1h-3zM1374 431h3v1h-3zM1380 431h3v1h-3zM1386 431h3v1h-3zM1392 431h3v1h-3zM1398 431h3v1h-3zM1404 431h3v1h-3zM1410 431h3v1h-3zM1416 431h3v1h-3zM1422 431h3v1h-3zM1428 431h3v1h-3zM1434 431h3v1h-3zM1440 431h3v1h-3zM1446 431h3v1h-3zM1452 431h3v1h-3zM1458 431h3v1h-3zM1464 431h3v1h-3zM1470 431h3v1h-3zM1476 431h3v1h-3zM1482 431h3v1h-3zM1488 431h3v1h-3zM1494 431h3v1h-3zM1500 431h3v1h-3zM1506 431h3v1h-3zM1512 431h3v1h-3zM1518 431h2v1h-2z" fill="#5f5f5f"/>
<path d="M6 496h3v1h-3zM12 496h3v1h-3zM18 496h3v1h-3zM24 496h3v1h-3zM30 496h3v1h-3zM36 496h3v1h-3zM42 496h3v1h-3zM48 496h3v1h-3zM54 496h3v1h-3zM60 496h3v1h-3zM66 496h3v1h-3zM72 496h3v1h-3zM78 496h3v1h-3zM84 496h3v1h-3zM90 496h3v1h-3zM96 496h3v1h-3zM102 496h3v1h-3zM108 496h3v1h-3zM114 496h3v1h-3zM120 496h3v1h-3zM126 496h3v1h-3zM132 496h3v1h-3zM138 496h3v1h-3zM144 496h3v1h-3zM150 496h3v1h-3zM156 496h3v1h-3zM162 496h3v1h-3zM168 496h3v1h-3zM174 496h3v1h-3zM180 496h3v1h-3zM186 496h3v1h-3zM192 496h3v1h-3zM198 496h3v1h-3zM204 496h3v1h-3zM210 496h3v1h-3zM216 496h3v1h-3zM222 496h3v1h-3zM228 496h3v1h-3zM234 496h3v1h-3zM240 496h3v1h-3zM246 496h3v1h-3zM252 496h3v1h-3zM258 496h3v1h-3zM264 496h3v1h-3zM270 496h3v1h-3zM276 496h3v1h-3zM282 496h3v1h-3zM288 496h3v1h-3zM294 496h3v1h-3zM300 496h3v1h-3zM306 496h3v1h-3zM312 496h3v1h-3zM318 496h3v1h-3zM324 496h3v1h-3zM330 496h3v1h-3zM336 496h3v1h-3zM342 496h3v1h-3zM348 496h3v1h-3zM354 496h3v1h-3zM360 496h3v1h-3zM366 496h3v1h-3zM372 496h3v1h-3zM378 496h3v1h-3zM384 496h3v1h-3zM390 496h3v1h-3zM396 496h3v1h-3zM402 496h3v1h-3zM408 496h3v1h-3zM414 496h3v1h-3zM420 496h3v1h-3zM426 496h3v1h-3zM432 496h3v1h-3zM438 496h3v1h-3zM444 496h3v1h-3zM450 496h3v1h-3zM456 496h3v1h-3zM462 496h3v1h-3zM468 496h3v1h-3zM474 496h3v1h-3zM480 496h3v1h-3zM486 496h3v1h-3zM492 496h3v1h-3zM498 496h3v1h-3zM504 496h3v1h-3zM510 496h3v1h-3zM516 496h3v1h-3zM522 496h3v1h-3zM528 496h3v1h-3zM534 496h3v1h-3zM540 496h3v1h-3zM546 496h3v1h-3zM552 496h3v1h-3zM558 496h3v1h-3zM564 496h3v1h-3zM570 496h3v1h-3zM576 496h3v1h-3zM582 496h3v1h-3zM588 496h3v1h-3zM594 496h3v1h-3zM600 496h3v1h-3zM606 496h3v1h-3zM612 496h3v1h-3zM618 496h3v1h-3zM624 496h3v1h-3zM630 496h3v1h-3zM636 496h3v1h-3zM642 496h3v1h-3zM648 496h3v1h-3zM654 496h3v1h-3zM660 496h3v1h-3zM666 496h3v1h-3zM672 496h3v1h-3zM678 496h3v1h-3zM684 496h3v1h-3zM690 496h3v1h-3zM696 496h3v1h-3zM702 496h3v1h-3zM708 496h3v1h-3zM714 496h3v1h-3zM720 496h3v1h-3zM726 496h3v1h-3zM732 496h3v1h-3zM738 496h3v1h-3zM744 496h3v1h-3zM750 496h3v1h-3zM756 496h3v1h-3zM762 496h3v1h-3zM768 496h3v1h-3zM774 496h3v1h-3zM780 496h3v1h-3zM786 496h3v1h-3zM792 496h3v1h-3zM798 496h3v1h-3zM804 496h3v1h-3zM810 496h3v1h-3zM816 496h3v1h-3zM822 496h3v1h-3zM828 496h3v1h-3zM834 496h3v1h-3zM840 496h3v1h-3zM846 496h3v1h-3zM852 496h3v1h-3zM858 496h3v1h-3zM864 496h3v1h-3zM870 496h3v1h-3zM876 496h3v1h-3zM882 496h3v1h-3zM888 496h3v1h-3zM894 496h3v1h-3zM900 496h3v1h-3zM906 496h3v1h-3zM912 496h3v1h-3zM918 496h3v1h-3zM924 496h3v1h-3zM930 496h3v1h-3zM936 496h3v1h-3zM942 496h3v1h-3zM948 496h3v1h-3zM954 496h3v1h-3zM960 496h3v1h-3zM966 496h3v1h-3zM972 496h3v1h-3zM978 496h3v1h-3zM984 496h3v1h-3zM990 496h3v1h-3zM996 496h3v1h-3zM1002 496h3v1h-3zM1008 496h3v1h-3zM1014 496h3v1h-3zM1020 496h3v1h-3zM1026 496h3v1h-3zM1032 496h3v1h-3zM1038 496h3v1h-3zM1044 496h3v1h-3zM1050 496h3v1h-3zM1056 496h3v1h-3zM1062 496h3v1h-3zM1068 496h3v1h-3zM1074 496h3v1h-3zM1080 496h3v1h-3zM1086 496h3v1h-3zM1092 496h3v1h-3zM1098 496h3v1h-3zM1104 496h3v1h-3zM1110 496h3v1h-3zM1116 496h3v1h-3zM1122 496h3v1h-3zM1128 496h3v1h-3zM1134 496h3v1h-3zM1140 496h3v1h-3zM1146 496h3v1h-3zM1152 496h3v1h-3zM1158 496h3v1h-3zM1164 496h3v1h-3zM1170 496h3v1h-3zM1176 496h3v1h-3zM1182 496h3v1h-3zM1188 496h3v1h-3zM1194 496h3v1h-3zM1200 496h3v1h-3zM1206 496h3v1h-3zM1212 496h3v1h-3zM1218 496h3v1h-3zM1224 496h3v1h-3zM1230 496h3v1h-3zM1236 496h3v1h-3zM1242 496h3v1h-3zM1248 496h3v1h-3zM1254 496h3v1h-3zM1260 496h3v1h-3zM1266 496h3v1h-3zM1272 496h3v1h-3zM1278 496h3v1h-3zM1284 496h3v1h-3zM1290 496h3v1h-3zM1296 496h3v1h-3zM1302 496h3v1h-3zM1308 496h3v1h-3zM1314 496h3v1h-3zM1320 496h3v1h-3zM1326 496h3v1h-3zM1332 496h3v1h-3zM1338 496h3v1h-3zM1344 496h3v1h-3zM1350 496h3v1h-3zM1356 496h3v1h-3zM1362 496h3v1h-3zM1368 496h3v1h-3zM1374 496h3v1h-3zM1380 496h3v1h-3zM1386 496h3v1h-3zM1392 496h3v1h-3zM1398 496h3v1h-3zM1404 496h3v1h-3zM1410 496h3v1h-3zM1416 496h3v1h-3zM1422 496h3v1h-3zM1428 496h3v1h-3zM1434 496h3v1h-3zM1440 496h3v1h-3zM1446 496h3v1h-3zM1452 496h3v1h-3zM1458 496h3v1h-3zM1464 496h3v1h-3zM1470 496h3v1h-3zM1476 496h3v1h-3zM1482 496h3v1h-3zM1488 496h3v1h-3zM1494 496h3v1h-3zM1500 496h3v1h-3zM1506 496h3v1h-3zM1512 496h3v1h-3zM1518 496h2v1h-2z" fill="#5f5f5f"/>
<path d="M69 5v2h1v-2zM69 10v3h1v-3zM69 16v3h1v-3zM69 22v3h1v-3zM69 28v3h1v-3zM69 34v3h1v-3zM69 40v3h1v-3zM69 46v3h1v-3zM69 52v3h1v-3zM69 58v3h1v-3zM69 64v3h1v-3zM69 70v3h1v-3zM69 76v3h1v-3zM69 82v3h1v-3zM69 88v3h1v-3zM69 94v3h1v-3zM69 100v3h1v-3zM69 106v3h1v-3zM69 112v3h1v-3zM69 118v3h1v-3zM69 124v3h1v-3zM69 130v3h1v-3zM69 136v3h1v-3zM69 142v3h1v-3zM69 148v3h1v-3zM69 154v3h1v-3zM69 160v3h1v-3zM69 166v3h1v-3zM69 172v3h1v-3zM69 178v3h1v-3zM69 184v3h1v-3zM69 190v3h1v-3zM69 196v3h1v-3zM69 202v3h1v-3zM69 208v3h1v-3zM69 214v3h1v-3zM69 220v3h1v-3zM69 226v3h1v-3zM69 232v3h1v-3zM69 238v3h1v-3zM69 244v3h1v-3zM69 250v3h1v-3zM69 256v3h1v-3zM69 262v3h1v-3zM69 268v3h1v-3zM69 274v3h1v-3zM69 280v3h1v-3zM69 286v3h1v-3zM69 292v3h1v-3zM69 298v3h1v-3zM69 304v3h1v-3zM69 310v3h1v-3zM69 316v3h1v-3zM69 322v3h1v-3zM69 328v3h1v-3zM69 334v3h1v-3zM69 340v3h1v-3zM69 346v3h1v-3zM69 352v3h1v-3zM69 358v3h1v-3zM69 364v3h1v-3zM69 370v3h1v-3zM69 376v3h1v-3zM69 382v3h1v-3zM69 388v3h1v-3zM69 394v3h1v-3zM69 400v3h1v-3zM69 406v3h1v-3zM69 412v3h1v-3zM69 418v3h1v-3zM69 424v3h1v-3zM69 430v3h1v-3zM69 436v3h1v-3zM69 442v3h1v-3zM69 448v3h1v-3zM69 454v3h1v-3zM69 460v3h1v-3zM69 466v3h1v-3zM69 472v3h1v-3zM69 478v3h1v-3zM69 484v3h1v-3zM69 490v3h1v-3zM69 496v3h1v-3zM69 502v3h1v-3zM69 508v3h1v-3zM69 514v3h1v-3zM69 520v3h1v-3zM69 526v3h1v-3z" fill="#5f5f5f"/>
<path d="M133 5v2h1v-2zM133 10v3h1v-3zM133 16v3h1v-3zM133 22v3h1v-3zM133 28v3h1v-3zM133 34v3h1v-3zM133 40v3h1v-3zM133 46v3h1v-3zM133 52v3h1v-3zM133 58v3h1v-3zM133 64v3h1v-3zM133 70v3h1v-3zM133 76v3h1v-3zM133 82v3h1v-3zM133 88v3h1v-3zM133 94v3h1v-3zM133 100v3h1v-3zM133 106v3h1v-3zM133 112v3h1v-3zM133 118v3h1v-3zM133 124v3h1v-3zM133 130v3h1v-3zM133 136v3h1v-3zM133 142v3h1v-3zM133 148v3h1v-3zM133 154v3h1v-3zM133 160v3h1v-3zM133 166v3h1v-3zM133 172v3h1v-3zM133 178v3h1v-3zM133 184v3h1v-3zM133 190v3h1v-3zM133 196v3h1v-3zM133 202v3h1v-3zM133 208v3h1v-3zM133 214v3h1v-3zM133 220v3h1v-3zM133 226v3h1v-3zM133 232v3h1v-3zM133 238v3h1v-3zM133 244v3h1v-3zM133 250v3h1v-3zM133 256v3h1v-3zM133 262v3h1v-3zM133 268v3h1v-3zM133 274v3h1v-3zM133 280v3h1v-3zM133 286v3h1v-3zM133 292v3h1v-3zM133 298v3h1v-3zM133 304v3h1v-3zM133 310v3h1v-3zM133 316v3h1v-3zM133 322v3h1v-3zM133 328v3h1v-3zM133 334v3h1v-3zM133 340v3h1v-3zM133 346v3h1v-3zM133 352v3h1v-3zM133 358v3h1v-3zM133 364v3h1v-3zM133 370v3h1v-3zM133 376v3h1v-3zM133 382v3h1v-3zM133 388v3h1v-3zM133 394v3h1v-3zM133 400v3h1v-3zM133 406v3h1v-3zM133 412v3h1v-3zM133 418v3h1v-3zM133 424v3h1v-3zM133 430v3h1v-3zM133 436v3h1v-3zM133 442v3h1v-3zM133 448v3h1v-3zM133 454v3h1v-3zM133 460v3h1v-3zM133 466v3h1v-3zM133 472v3h1v-3zM133 478v3h1v-3zM133 484v3h1v-3zM133 490v3h1v-3zM133 496v3h1v-3zM133 502v3h1v-3zM133 508v3h1v-3zM133 514v3h1v-3zM133 520v3h1v-3zM133 526v3h1v-3z" fill="#5f5f5f"/>
<path d="M197 5v2h1v-2zM197 10v3h1v-3zM197 16v3h1v-3zM197 22v3h1v-3zM197 28v3h1v-3zM197 34v3h1v-3zM197 40v3h1v-3zM197 46v3h1v-3zM197 52v3h1v-3zM197 58v3h1v-3zM197 64v3h1v-3zM197 70v3h1v-3zM197 76v3h1v-3zM197 82v3h1v-3zM197 88v3h1v-3zM197 94v3h1v-3zM197 100v3h1v-3zM197 106v3h1v-3zM197 112v3h1v-3zM197 118v3h1v-3zM197 124v3h1v-3zM197 130v3h1v-3zM197 136v3h1v-3zM197 142v3h1v-3zM197 148v3h1v-3zM197 154v3h1v-3zM197 160v3h1v-3zM197 166v3h1v-3zM197 172v3h1v-3zM197 178v3h1v-3zM197 184v3h1v-3zM197 190v3h1v-3zM197 196v3h1v-3zM197 202v3h1v-3zM197 208v3h1v-3zM197 214v3h1v-3zM197 220v3h1v-3zM197 226v3h1v-3zM197 232v3h1v-3zM197 238v3h1v-3zM197 244v3h1v-3zM197 250v3h1v-3zM197 256v3h1v-3zM197 262v3h1v-3zM197 268v3h1v-3zM197 274v3h1v-3zM197 280v3h1v-3zM197 286v3h1v-3zM197 292v3h1v-3zM197 298v3h1v-3zM197 304v3h1v-3zM197 310v3h1v-3zM197 316v3h1v-3zM197 322v3h1v-3zM197 328v3h1v-3zM197 334v3h1v-3zM197 340v3h1v-3zM197 346v3h1v-3zM197 352v3h1v-3zM197 358v3h1v-3zM197 364v3h1v-3zM197 370v3h1v-3zM197 376v3h1v-3zM197 382v3h1v-3zM197 388v3h1v-3zM197 394v3h1v-3zM197 400v3h1v-3zM197 406v3h1v-3zM197 412v3h1v-3zM197 418v3h1v-3zM197 424v3h1v-3zM197 430v3h1v-3zM197 436v3h1v-3zM197 442v3h1v-3zM197 448v3h1v-3zM197 454v3h1v-3zM197 460v3h1v-3zM197 466v3h1v-3zM197 472v3h1v-3zM197 478v3h1v-3zM197 484v3h1v-3zM197 490v3h1v-3zM197 496v3h1v-3zM197 502v3h1v-3zM197 508v3h1v-3zM197 514v3h1v-3zM197 520v3h1v-3zM197 526v3h1v-3z" fill="#5f5f5f"/>
<path d="M261 5v2h1v-2zM261 10v3h1v-3zM261 16v3h1v-3zM261 22v3h1v-3zM261 28v3h1v-3zM261 34v3h1v-3zM261 40v3h1v-3zM261 46v3h1v-3zM261 52v3h1v-3zM261 58v3h1v-3zM261 64v3h1v-3zM261 70v3h1v-3zM261 76v3h1v-3zM261 82v3h1v-3zM261 88v3h1v-3zM261 94v3h1v-3zM261 100v3h1v-3zM261 106v3h1v-3zM261 112v3h1v-3zM261 118v3h1v-3zM261 124v3h1v-3zM261 130v3h1v-3zM261 136v3h1v-3zM261 142v3h1v-3zM261 148v3h1v-3zM261 154v3h1v-3zM261 160v3h1v-3zM261 166v3h1v-3zM261 172v3h1v-3zM261 178v3h1v-3zM261 184v3h1v-3zM261 190v3h1v-3zM261 196v3h1v-3zM261 202v3h1v-3zM261 208v3h1v-3zM261 214v3h1v-3zM261 220v3h1v-3zM261 226v3h1v-3zM261 232v3h1v-3zM261 238v3h1v-3zM261 244v3h1v-3zM261 250v3h1v-3zM261 256v3h1v-3zM261 262v3h1v-3zM261 268v3h1v-3zM261 274v3h1v-3zM261 280v3h1v-3zM261 286v3h1v-3zM261 292v3h1v-3zM261 298v3h1v-3zM261 304v3h1v-3zM261 310v3h1v-3zM261 316v3h1v-3zM261 322v3h1v-3zM261 328v3h1v-3zM261 334v3h1v-3zM261 340v3h1v-3zM261 346v3h1v-3zM261 352v3h1v-3zM261 358v3h1v-3zM261 364v3h1v-3zM261 370v3h1v-3zM261 376v3h1v-3zM261 382v3h1v-3zM261 388v3h1v-3zM261 394v3h1v-3zM261 400v3h1v-3zM261 406v3h1v-3zM261 412v3h1v-3zM261 418v3h1v-3zM261 424v3h1v-3zM261 430v3h1v-3zM261 436v3h1v-3zM261 442v3h1v-3zM261 448v3h1v-3zM261 454v3h1v-3zM261 460v3h1v-3zM261 466v3h1v-3zM261 472v3h1v-3zM261 478v3h1v-3zM261 484v3h1v-3zM261 490v3h1v-3zM261 496v3h1v-3zM261 502v3h1v-3zM261 508v3h1v-3zM261 514v3h1v-3zM261 520v3h1v-3zM261 526v3h1v-3z" fill="#5f5f5f"/>
<path d="M325 5v2h1v-2zM325 10v3h1v-3zM325 16v3h1v-3zM325 22v3h1v-3zM325 28v3h1v-3zM325 34v3h1v-3zM325 40v3h1v-3zM325 46v3h1v-3zM325 52v3h1v-3zM325 58v3h1v-3zM325 64v3h1v-3zM325 70v3h1v-3zM325 76v3h1v-3zM325 82v3h1v-3zM325 88v3h1v-3zM325 94v3h1v-3zM325 100v3h1v-3zM325 106v3h1v-3zM325 112v3h1v-3zM325 118v3h1v-3zM325 124v3h1v-3zM325 130v3h1v-3zM325 136v3h1v-3zM325 142v3h1v-3zM325 148v3h1v-3zM325 154v3h1v-3zM325 160v3h1v-3zM325 166v3h1v-3zM325 172v3h1v-3zM325 178v3h1v-3zM325 184v3h1v-3zM325 190v3h1v-3zM325 196v3h1v-3zM325 202v3h1v-3zM325 208v3h1v-3zM325 214v3h1v-3zM325 220v3h1v-3zM325 226v3h1v-3zM325 232v3h1v-3zM325 238v3h1v-3zM325 244v3h1v-3zM325 250v3h1v-3zM325 256v3h1v-3zM325 262v3h1v-3zM325 268v3h1v-3zM325 274v3h1v-3zM325 280v3h1v-3zM325 286v3h1v-3zM325 292v3h1v-3zM325 298v3h1v-3zM325 304v3h1v-3zM325 310v3h1v-3zM325 316v3h1v-3zM325 322v3h1v-3zM325 328v3h1v-3zM325 334v3h1v-3zM325 340v3h1v-3zM325 346v3h1v-3zM325 352v3h1v-3zM325 358v3h1v-3zM325 364v3h1v-3zM325 370v3h1v-3zM325 376v3h1v-3zM325 382v3h1v-3zM325 388v3h1v-3zM325 394v3h1v-3zM325 400v3h1v-3zM325 406v3h1v-3zM325 412v3h1v-3zM325 418v3h1v-3zM325 424v3h1v-3zM325 430v3h1v-3zM325 436v3h1v-3zM325 442v3h1v-3zM325 448v3h1v-3zM325 454v3h1v-3zM325 460v3h1v-3zM325 466v3h1v-3zM325 472v3h1v-3zM325 478v3h1v-3zM325 484v3h1v-3zM325 490v3h1v-3zM325 496v3h1v-3zM325 502v3h1v-3zM325 508v3h1v-3zM325 514v3h1v-3zM325 520v3h1v-3zM325 526v3h1v-3z" fill="#5f5f5f"/>
<path d="M389 5v2h1v-2zM389 10v3h1v-3zM389 16v3h1v-3zM389 22v3h1v-3zM389 28v3h1v-3zM389 34v3h1v-3zM389 40v3h1v-3zM389 46v3h1v-3zM389 52v3h1v-3zM389 58v3h1v-3zM389 64v3h1v-3zM389 70v3h1v-3zM389 76v3h1v-3zM389 82v3h1v-3zM389 88v3h1v-3zM389 94v3h1v-3zM389 100v3h1v-3zM389 106v3h1v-3zM389 112v3h1v-3zM389 118v3h1v-3zM389 124v3h1v-3zM389 130v3h1v-3zM389 136v3h1v-3zM389 142v3h1v-3zM389 148v3h1v-3zM389 154v3h1v-3zM389 160v3h1v-3zM389 166v3h1v-3zM389 172v3h1v-3zM389 178v3h1v-3zM389 184v3h1v-3zM389 190v3h1v-3zM389 196v3h1v-3zM389 202v3h1v-3zM389 208v3h1v-3zM389 214v3h1v-3zM389 220v3h1v-3zM389 226v3h1v-3zM389 232v3h1v-3zM389 238v3h1v-3zM389 244v3h1v-3zM389 250v3h1v-3zM389 256v3h1v-3zM389 262v3h1v-3zM389 268v3h1v-3zM389 274v3h1v-3zM389 280v3h1v-3zM389 286v3h1v-3zM389 292v3h1v-3zM389 298v3h1v-3zM389 304v3h1v-3zM389 310v3h1v-3zM389 316v3h1v-3zM389 322v3h1v-3zM389 328v3h1v-3zM389 334v3h1v-3zM389 340v3h1v-3zM389 346v3h1v-3zM389 352v3h1v-3zM389 358v3h1v-3zM389 364v3h1v-3zM389 370v3h1v-3zM389 376v3h1v-3zM389 382v3h1v-3zM389 388v3h1v-3zM389 394v3h1v-3zM389 400v3h1v-3zM389 406v3h1v-3zM389 412v3h1v-3zM389 418v3h1v-3zM389 424v3h1v-3zM389 430v3h1v-3zM389 436v3h1v-3zM389 442v3h1v-3zM389 448v3h1v-3zM389 454v3h1v-3zM389 460v3h1v-3zM389 466v3h1v-3zM389 472v3h1v-3zM389 478v3h1v-3zM389 484v3h1v-3zM389 490v3h1v-3zM389 496v3h1v-3zM389 502v3h1v-3zM389 508v3h1v-3zM389 514v3h1v-3zM389 520v3h1v-3zM389 526v3h1v-3z" fill="#5f5f5f"/>
<path d="M453 5v2h1v-2zM453 10v3h1v-3zM453 16v3h1v-3zM453 22v3h1v-3zM453 28v3h1v-3zM453 34v3h1v-3zM453 40v3h1v-3zM453 46v3h1v-3zM453 52v3h1v-3zM453 58v3h1v-3zM453 64v3h1v-3zM453 70v3h1v-3zM453 76v3h1v-3zM453 82v3h1v-3zM453 88v3h1v-3zM453 94v3h1v-3zM453 100v3h1v-3zM453 106v3h1v-3zM453 112v3h1v-3zM453 118v3h1v-3zM453 124v3h1v-3zM453 130v3h1v-3zM453 136v3h1v-3zM453 142v3h1v-3zM453 148v3h1v-3zM453 154v3h1v-3zM453 160v3h1v-3zM453 166v3h1v-3zM453 172v3h1v-3zM453 178v3h1v-3zM453 184v3h1v-3zM453 190v3h1v-3zM453 196v3h1v-3zM453 202v3h1v-3zM453 208v3h1v-3zM453 214v3h1v-3zM453 220v3h1v-3zM453 226v3h1v-3zM453 232v3h1v-3zM453 238v3h1v-3zM453 244v3h1v-3zM453 250v3h1v-3zM453 256v3h1v-3zM453 262v3h1v-3zM453 268v3h1v-3zM453 274v3h1v-3zM453 280v3h1v-3zM453 286v3h1v-3zM453 292v3h1v-3zM453 298v3h1v-3zM453 304v3h1v-3zM453 310v3h1v-3zM453 316v3h1v-3zM453 322v3h1v-3zM453 328v3h1v-3zM453 334v3h1v-3zM453 340v3h1v-3zM453 346v3h1v-3zM453 352v3h1v-3zM453 358v3h1v-3zM453 364v3h1v-3zM453 370v3h1v-3zM453 376v3h1v-3zM453 382v3h1v-3zM453 388v3h1v-3zM453 394v3h1v-3zM453 400v3h1v-3zM453 406v3h1v-3zM453 412v3h1v-3zM453 418v3h1v-3zM453 424v3h1v-3zM453 430v3h1v-3zM453 436v3h1v-3zM453 442v3h1v-3zM453 448v3h1v-3zM453 454v3h1v-3zM453 460v3h1v-3zM453 466v3h1v-3zM453 472v3h1v-3zM453 478v3h1v-3zM453 484v3h1v-3zM453 490v3h1v-3zM453 496v3h1v-3zM453 502v3h1v-3zM453 508v3h1v-3zM453 514v3h1v-3zM453 520v3h1v-3zM453 526v3h1v-3z" fill="#5f5f5f"/>
<path d="M517 5v2h1v-2zM517 10v3h1v-3zM517 16v3h1v-3zM517 22v3h1v-3zM517 28v3h1v-3zM517 34v3h1v-3zM517 40v3h1v-3zM517 46v3h1v-3zM517 52v3h1v-3zM517 58v3h1v-3zM517 64v3h1v-3zM517 70v3h1v-3zM517 76v3h1v-3zM517 82v3h1v-3zM517 88v3h1v-3zM517 94v3h1v-3zM517 100v3h1v-3zM517 106v3h1v-3zM517 112v3h1v-3zM517 118v3h1v-3zM517 124v3h1v-3zM517 130v3h1v-3zM517 136v3h1v-3zM517 142v3h1v-3zM517 148v3h1v-3zM517 154v3h1v-3zM517 160v3h1v-3zM517 166v3h1v-3zM517 172v3h1v-3zM517 178v3h1v-3zM517 184v3h1v-3zM517 190v3h1v-3zM517 196v3h1v-3zM517 202v3h1v-3zM517 208v3h1v-3zM517 214v3h1v-3zM517 220v3h1v-3zM517 226v3h1v-3zM517 232v3h1v-3zM517 238v3h1v-3zM517 244v3h1v-3zM517 250v3h1v-3zM517 256v3h1v-3zM517 262v3h1v-3zM517 268v3h1v-3zM517 274v3h1v-3zM517 280v3h1v-3zM517 286v3h1v-3zM517 292v3h1v-3zM517 298v3h1v-3zM517 304v3h1v-3zM517 310v3h1v-3zM517 316v3h1v-3zM517 322v3h1v-3zM517 328v3h1v-3zM517 334v3h1v-3zM517 340v3h1v-3zM517 346v3h1v-3zM517 352v3h1v-3zM517 358v3h1v-3zM517 364v3h1v-3zM517 370v3h1v-3zM517 376v3h1v-3zM517 382v3h1v-3zM517 388v3h1v-3zM517 394v3h1v-3zM517 400v3h1v-3zM517 406v3h1v-3zM517 412v3h1v-3zM517 418v3h1v-3zM517 424v3h1v-3zM517 430v3h1v-3zM517 436v3h1v-3zM517 442v3h1v-3zM517 448v3h1v-3zM517 454v3h1v-3zM517 460v3h1v-3zM517 466v3h1v-3zM517 472v3h1v-3zM517 478v3h1v-3zM517 484v3h1v-3zM517 490v3h1v-3zM517 496v3h1v-3zM517 502v3h1v-3zM517 508v3h1v-3zM517 514v3h1v-3zM517 520v3h1v-3zM517 526v3h1v-3z" fill="#5f5f5f"/>
<path d="M581 5v2h1v-2zM581 10v3h1v-3zM581 16v3h1v-3zM581 22v3h1v-3zM581 28v3h1v-3zM581 34v3h1v-3zM581 40v3h1v-3zM581 46v3h1v-3zM581 52v3h1v-3zM581 58v3h1v-3zM581 64v3h1v-3zM581 70v3h1v-3zM581 76v3h1v-3zM581 82v3h1v-3zM581 88v3h1v-3zM581 94v3h1v-3zM581 100v3h1v-3zM581 106v3h1v-3zM581 112v3h1v-3zM581 118v3h1v-3zM581 124v3h1v-3zM581 130v3h1v-3zM581 136v3h1v-3zM581 142v3h1v-3zM581 148v3h1v-3zM581 154v3h1v-3zM581 160v3h1v-3zM581 166v3h1v-3zM581 172v3h1v-3zM581 178v3h1v-3zM581 184v3h1v-3zM581 190v3h1v-3zM581 196v3h1v-3zM581 202v3h1v-3zM581 208v3h1v-3zM581 214v3h1v-3zM581 220v3h1v-3zM581 226v3h1v-3zM581 232v3h1v-3zM581 238v3h1v-3zM581 244v3h1v-3zM581 250v3h1v-3zM581 256v3h1v-3zM581 262v3h1v-3zM581 268v3h1v-3zM581 274v3h1v-3zM581 280v3h1v-3zM581 286v3h1v-3zM581 292v3h1v-3zM581 298v3h1v-3zM581 304v3h1v-3zM581 310v3h1v-3zM581 316v3h1v-3zM581 322v3h1v-3zM581 328v3h1v-3zM581 334v3h1v-3zM581 340v3h1v-3zM581 346v3h1v-3zM581 352v3h1v-3zM581 358v3h1v-3zM581 364v3h1v-3zM581 370v3h1v-3zM581 376v3h1v-3zM581 382v3h1v-3zM581 388v3h1v-3zM581 394v3h1v-3zM581 400v3h1v-3zM581 406v3h1v-3zM581 412v3h1v-3zM581 418v3h1v-3zM581 424v3h1v-3zM581 430v3h1v-3zM581 436v3h1v-3zM581 442v3h1v-3zM581 448v3h1v-3zM581 454v3h1v-3zM581 460v3h1v-3zM581 466v3h1v-3zM581 472v3h1v-3zM581 478v3h1v-3zM581 484v3h1v-3zM581 490v3h1v-3zM581 496v3h1v-3zM581 502v3h1v-3zM581 508v3h1v-3zM581 514v3h1v-3zM581 520v3h1v-3zM581 526v3h1v-3z" fill="#5f5f5f"/>
<path d="M645 5v2h1v-2zM645 10v3h1v-3zM645 16v3h1v-3zM645 22v3h1v-3zM645 28v3h1v-3zM645 34v3h1v-3zM645 40v3h1v-3zM645 46v3h1v-3zM645 52v3h1v-3zM645 58v3h1v-3zM645 64v3h1v-3zM645 70v3h1v-3zM645 76v3h1v-3zM645 82v3h1v-3zM645 88v3h1v-3zM645 94v3h1v-3zM645 100v3h1v-3zM645 106v3h1v-3zM645 112v3h1v-3zM645 118v3h1v-3zM645 124v3h1v-3zM645 130v3h1v-3zM645 136v3h1v-3zM645 142v3h1v-3zM645 148v3h1v-3zM645 154v3h1v-3zM645 160v3h1v-3zM645 166v3h1v-3zM645 172v3h1v-3zM645 178v3h1v-3zM645 184v3h1v-3zM645 190v3h1v-3zM645 196v3h1v-3zM645 202v3h1v-3zM645 208v3h1v-3zM645 214v3h1v-3zM645 220v3h1v-3zM645 226v3h1v-3zM645 232v3h1v-3zM645 238v3h1v-3zM645 244v3h1v-3zM645 250v3h1v-3zM645 256v3h1v-3zM645 262v3h1v-3zM645 268v3h1v-3zM645 274v3h1v-3zM645 280v3h1v-3zM645 286v3h1v-3zM645 292v3h1v-3zM645 298v3h1v-3zM645 304v3h1v-3zM645 310v3h1v-3zM645 316v3h1v-3zM645 322v3h1v-3zM645 328v3h1v-3zM645 334v3h1v-3zM645 340v3h1v-3zM645 346v3h1v-3zM645 352v3h1v-3zM645 358v3h1v-3zM645 364v3h1v-3zM645 370v3h1v-3zM645 376v3h1v-3zM645 382v3h1v-3zM645 388v3h1v-3zM645 394v3h1v-3zM645 400v3h1v-3zM645 406v3h1v-3zM645 412v3h1v-3zM645 418v3h1v-3zM645 424v3h1v-3zM645 430v3h1v-3zM645 436v3h1v-3zM645 442v3h1v-3zM645 448v3h1v-3zM645 454v3h1v-3zM645 460v3h1v-3zM645 466v3h1v-3zM645 472v3h1v-3zM645 478v3h1v-3zM645 484v3h1v-3zM645 490v3h1v-3zM645 496v3h1v-3zM645 502v3h1v-3zM645 508v3h1v-3zM645 514v3h1v-3zM645 520v3h1v-3zM645 526v3h1v-3z" fill="#5f5f5f"/>
<path d="M709 5v2h1v-2zM709 10v3h1v-3zM709 16v3h1v-3zM709 22v3h1v-3zM709 28v3h1v-3zM709 34v3h1v-3zM709 40v3h1v-3zM709 46v3h1v-3zM709 52v3h1v-3zM709 58v3h1v-3zM709 64v3h1v-3zM709 70v3h1v-3zM709 76v3h1v-3zM709 82v3h1v-3zM709 88v3h1v-3zM709 94v3h1v-3zM709 100v3h1v-3zM709 106v3h1v-3zM709 112v3h1v-3zM709 118v3h1v-3zM709 124v3h1v-3zM709 130v3h1v-3zM709 136v3h1v-3zM709 142v3h1v-3zM709 148v3h1v-3zM709 154v3h1v-3zM709 160v3h1v-3zM709 166v3h1v-3zM709 172v3h1v-3zM709 178v3h1v-3zM709 184v3h1v-3zM709 190v3h1v-3zM709 196v3h1v-3zM709 202v3h1v-3zM709 208v3h1v-3zM709 214v3h1v-3zM709 220v3h1v-3zM709 226v3h1v-3zM709 232v3h1v-3zM709 238v3h1v-3zM709 244v3h1v-3zM709 250v3h1v-3zM709 256v3h1v-3zM709 262v3h1v-3zM709 268v3h1v-3zM709 274v3h1v-3zM709 280v3h1v-3zM709 286v3h1v-3zM709 292v3h1v-3zM709 298v3h1v-3zM709 304v3h1v-3zM709 310v3h1v-3zM709 316v3h1v-3zM709 322v3h1v-3zM709 328v3h1v-3zM709 334v3h1v-3zM709 340v3h1v-3zM709 346v3h1v-3zM709 352v3h1v-3zM709 358v3h1v-3zM709 364v3h1v-3zM709 370v3h1v-3zM709 376v3h1v-3zM709 382v3h1v-3zM709 388v3h1v-3zM709 394v3h1v-3zM709 400v3h1v-3zM709 406v3h1v-3zM709 412v3h1v-3zM709 418v3h1v-3zM709 424v3h1v-3zM709 430v3h1v-3zM709 436v3h1v-3zM709 442v3h1v-3zM709 448v3h1v-3zM709 454v3h1v-3zM709 460v3h1v-3zM709 466v3h1v-3zM709 472v3h1v-3zM709 478v3h1v-3zM709 484v3h1v-3zM709 490v3h1v-3zM709 496v3h1v-3zM709 502v3h1v-3zM709 508v3h1v-3zM709 514v3h1v-3zM709 520v3h1v-3zM709 526v3h1v-3z" fill="#5f5f5f"/>
<path d="M773 5v2h1v-2zM773 10v3h1v-3zM773 16v3h1v-3zM773 22v3h1v-3zM773 28v3h1v-3zM773 34v3h1v-3zM773 40v3h1v-3zM773 46v3h1v-3zM773 52v3h1v-3zM773 58v3h1v-3zM773 64v3h1v-3zM773 70v3h1v-3zM773 76v3h1v-3zM773 82v3h1v-3zM773 88v3h1v-3zM773 94v3h1v-3zM773 100v3h1v-3zM773 106v3h1v-3zM773 112v3h1v-3zM773 118v3h1v-3zM773 124v3h1v-3zM773 130v3h1v-3zM773 136v3h1v-3zM773 142v3h1v-3zM773 148v3h1v-3zM773 154v3h1v-3zM773 160v3h1v-3zM773 166v3h1v-3zM773 172v3h1v-3zM773 178v3h1v-3zM773 184v3h1v-3zM773 190v3h1v-3zM773 196v3h1v-3zM773 202v3h1v-3zM773 208v3h1v-3zM773 214v3h1v-3zM773 220v3h1v-3zM773 226v3h1v-3zM773 232v3h1v-3zM773 238v3h1v-3zM773 244v3h1v-3zM773 250v3h1v-3zM773 256v3h1v-3zM773 262v3h1v-3zM773 268v3h1v-3zM773 274v3h1v-3zM773 280v3h1v-3zM773 286v3h1v-3zM773 292v3h1v-3zM773 298v3h1v-3zM773 304v3h1v-3zM773 310v3h1v-3zM773 316v3h1v-3zM773 322v3h1v-3zM773 328v3h1v-3zM773 334v3h1v-3zM773 340v3h1v-3zM773 346v3h1v-3zM773 352v3h1v-3zM773 358v3h1v-3zM773 364v3h1v-3zM773 370v3h1v-3zM773 376v3h1v-3zM773 382v3h1v-3zM773 388v3h1v-3zM773 394v3h1v-3zM773 400v3h1v-3zM773 406v3h1v-3zM773 412v3h1v-3zM773 418v3h1v-3zM773 424v3h1v-3zM773 430v3h1v-3zM773 436v3h1v-3zM773 442v3h1v-3zM773 448v3h1v-3zM773 454v3h1v-3zM773 460v3h1v-3zM773 466v3h1v-3zM773 472v3h1v-3zM773 478v3h1v-3zM773 484v3h1v-3zM773 490v3h1v-3zM773 496v3h1v-3zM773 502v3h1v-3zM773 508v3h1v-3zM773 514v3h1v-3zM773 520v3h1v-3zM773 526v3h1v-3z" fill="#5f5f5f"/>
<path d="M837 5v2h1v-2zM837 10v3h1v-3zM837 16v3h1v-3zM837 22v3h1v-3zM837 28v3h1v-3zM837 34v3h1v-3zM837 40v3h1v-3zM837 46v3h1v-3zM837 52v3h1v-3zM837 58v3h1v-3zM837 64v3h1v-3zM837 70v3h1v-3zM837 76v3h1v-3zM837 82v3h1v-3zM837 88v3h1v-3zM837 94v3h1v-3zM837 100v3h1v-3zM837 106v3h1v-3zM837 112v3h1v-3zM837 118v3h1v-3zM837 124v3h1v-3zM837 130v3h1v-3zM837 136v3h1v-3zM837 142v3h1v-3zM837 148v3h1v-3zM837 154v3h1v-3zM837 160v3h1v-3zM837 166v3h1v-3zM837 172v3h1v-3zM837 178v3h1v-3zM837 184v3h1v-3zM837 190v3h1v-3zM837 196v3h1v-3zM837 202v3h1v-3zM837 208v3h1v-3zM837 214v3h1v-3zM837 220v3h1v-3zM837 226v3h1v-3zM837 232v3h1v-3zM837 238v3h1v-3zM837 244v3h1v-3zM837 250v3h1v-3zM837 256v3h1v-3zM837 262v3h1v-3zM837 268v3h1v-3zM837 274v3h1v-3zM837 280v3h1v-3zM837 286v3h1v-3zM837 292v3h1v-3zM837 298v3h1v-3zM837 304v3h1v-3zM837 310v3h1v-3zM837 316v3h1v-3zM837 322v3h1v-3zM837 328v3h1v-3zM837 334v3h1v-3zM837 340v3h1v-3zM837 346v3h1v-3zM837 352v3h1v-3zM837 358v3h1v-3zM837 364v3h1v-3zM837 370v3h1v-3zM837 376v3h1v-3zM837 382v3h1v-3zM837 388v3h1v-3zM837 394v3h1v-3zM837 400v3h1v-3zM837 406v3h1v-3zM837 412v3h1v-3zM837 418v3h1v-3zM837 424v3h1v-3zM837 430v3h1v-3zM837 436v3h1v-3zM837 442v3h1v-3zM837 448v3h1v-3zM837 454v3h1v-3zM837 460v3h1v-3zM837 466v3h1v-3zM837 472v3h1v-3zM837 478v3h1v-3zM837 484v3h1v-3zM837 490v3h1v-3zM837 496v3h1v-3zM837 502v3h1v-3zM837 508v3h1v-3zM837 514v3h1v-3zM837 520v3h1v-3zM837 526v3h1v-3z" fill="#5f5f5f"/>
<path d="M901 5v2h1v-2zM901 10v3h1v-3zM901 16v3h1v-3zM901 22v3h1v-3zM901 28v3h1v-3zM901 34v3h1v-3zM901 40v3h1v-3zM901 46v3h1v-3zM901 52v3h1v-3zM901 58v3h1v-3zM901 64v3h1v-3zM901 70v3h1v-3zM901 76v3h1v-3zM901 82v3h1v-3zM901 88v3h1v-3zM901 94v3h1v-3zM901 100v3h1v-3zM901 106v3h1v-3zM901 112v3h1v-3zM901 118v3h1v-3zM901 124v3h1v-3zM901 130v3h1v-3zM901 136v3h1v-3zM901 142v3h1v-3zM901 148v3h1v-3zM901 154v3h1v-3zM901 160v3h1v-3zM901 166v3h1v-3zM901 172v3h1v-3zM901 178v3h1v-3zM901 184v3h1v-3zM901 190v3h1v-3zM901 196v3h1v-3zM901 202v3h1v-3zM901 208v3h1v-3zM901 214v3h1v-3zM901 220v3h1v-3zM901 226v3h1v-3zM901 232v3h1v-3zM901 238v3h1v-3zM901 244v3h1v-3zM901 250v3h1v-3zM901 256v3h1v-3zM901 262v3h1v-3zM901 268v3h1v-3zM901 274v3h1v-3zM901 280v3h1v-3zM901 286v3h1v-3zM901 292v3h1v-3zM901 298v3h1v-3zM901 304v3h1v-3zM901 310v3h1v-3zM901 316v3h1v-3zM901 322v3h1v-3zM901 328v3h1v-3zM901 334v3h1v-3zM901 340v3h1v-3zM901 346v3h1v-3zM901 352v3h1v-3zM901 358v3h1v-3zM901 364v3h1v-3zM901 370v3h1v-3zM901 376v3h1v-3zM901 382v3h1v-3zM901 388v3h1v-3zM901 394v3h1v-3zM901 400v3h1v-3zM901 406v3h1v-3zM901 412v3h1v-3zM901 418v3h1v-3zM901 424v3h1v-3zM901 430v3h1v-3zM901 436v3h1v-3zM901 442v3h1v-3zM901 448v3h1v-3zM901 454v3h1v-3zM901 460v3h1v-3zM901 466v3h1v-3zM901 472v3h1v-3zM901 478v3h1v-3zM901 484v3h1v-3zM901 490v3h1v-3zM901 496v3h1v-3zM901 502v3h1v-3zM901 508v3h1v-3zM901 514v3h1v-3zM901 520v3h1v-3zM901 526v3h1v-3z" fill="#5f5f5f"/>
<path d="M965 5v2h1v-2zM965 10v3h1v-3zM965 16v3h1v-3zM965 22v3h1v-3zM965 28v3h1v-3zM965 34v3h1v-3zM965 40v3h1v-3zM965 46v3h1v-3zM965 52v3h1v-3zM965 58v3h1v-3zM965 64v3h1v-3zM965 70v3h1v-3zM965 76v3h1v-3zM965 82v3h1v-3zM965 88v3h1v-3zM965 94v3h1v-3zM965 100v3h1v-3zM965 106v3h1v-3zM965 112v3h1v-3zM965 118v3h1v-3zM965 124v3h1v-3zM965 130v3h1v-3zM965 136v3h1v-3zM965 142v3h1v-3zM965 148v3h1v-3zM965 154v3h1v-3zM965 160v3h1v-3zM965 166v3h1v-3zM965 172v3h1v-3zM965 178v3h1v-3zM965 184v3h1v-3zM965 190v3h1v-3zM965 196v3h1v-3zM965 202v3h1v-3zM965 208v3h1v-3zM965 214v3h1v-3zM965 220v3h1v-3zM965 226v3h1v-3zM965 232v3h1v-3zM965 238v3h1v-3zM965 244v3h1v-3zM965 250v3h1v-3zM965 256v3h1v-3zM965 262v3h1v-3zM965 268v3h1v-3zM965 274v3h1v-3zM965 280v3h1v-3zM965 286v3h1v-3zM965 292v3h1v-3zM965 298v3h1v-3zM965 304v3h1v-3zM965 310v3h1v-3zM965 316v3h1v-3zM965 322v3h1v-3zM965 328v3h1v-3zM965 334v3h1v-3zM965 340v3h1v-3zM965 346v3h1v-3zM965 352v3h1v-3zM965 358v3h1v-3zM965 364v3h1v-3zM965 370v3h1v-3zM965 376v3h1v-3zM965 382v3h1v-3zM965 388v3h1v-3zM965 394v3h1v-3zM965 400v3h1v-3zM965 406v3h1v-3zM965 412v3h1v-3zM965 418v3h1v-3zM965 424v3h1v-3zM965 430v3h1v-3zM965 436v3h1v-3zM965 442v3h1v-3zM965 448v3h1v-3zM965 454v3h1v-3zM965 460v3h1v-3zM965 466v3h1v-3zM965 472v3h1v-3zM965 478v3h1v-3zM965 484v3h1v-3zM965 490v3h1v-3zM965 496v3h1v-3zM965 502v3h1v-3zM965 508v3h1v-3zM965 514v3h1v-3zM965 520v3h1v-3zM965 526v3h1v-3z" fill="#5f5f5f"/>
<path d="M1029 5v2h1v-2zM1029 10v3h1v-3zM1029 16v3h1v-3zM1029 22v3h1v-3zM1029 28v3h1v-3zM1029 34v3h1v-3zM1029 40v3h1v-3zM1029 46v3h1v-3zM1029 52v3h1v-3zM1029 58v3h1v-3zM1029 64v3h1v-3zM1029 70v3h1v-3zM1029 76v3h1v-3zM1029 82v3h1v-3zM1029 88v3h1v-3zM1029 94v3h1v-3zM1029 100v3h1v-3zM1029 106v3h1v-3zM1029 112v3h1v-3zM1029 118v3h1v-3zM1029 124v3h1v-3zM1029 130v3h1v-3zM1029 136v3h1v-3zM1029 142v3h1v-3zM1029 148v3h1v-3zM1029 154v3h1v-3zM1029 160v3h1v-3zM1029 166v3h1v-3zM1029 172v3h1v-3zM1029 178v3h1v-3zM1029 184v3h1v-3zM1029 190v3h1v-3zM1029 196v3h1v-3zM1029 202v3h1v-3zM1029 208v3h1v-3zM1029 214v3h1v-3zM1029 220v3h1v-3zM1029 226v3h1v-3zM1029 232v3h1v-3zM1029 238v3h1v-3zM1029 244v3h1v-3zM1029 250v3h1v-3zM1029 256v3h1v-3zM1029 262v3h1v-3zM1029 268v3h1v-3zM1029 274v3h1v-3zM1029 280v3h1v-3zM1029 286v3h1v-3zM1029 292v3h1v-3zM1029 298v3h1v-3zM1029 304v3h1v-3zM1029 310v3h1v-3zM1029 316v3h1v-3zM1029 322v3h1v-3zM1029 328v3h1v-3zM1029 334v3h1v-3zM1029 340v3h1v-3zM1029 346v3h1v-3zM1029 352v3h1v-3zM1029 358v3h1v-3zM1029 364v3h1v-3zM1029 370v3h1v-3zM1029 376v3h1v-3zM1029 382v3h1v-3zM1029 388v3h1v-3zM1029 394v3h1v-3zM1029 400v3h1v-3zM1029 406v3h1v-3zM1029 412v3h1v-3zM1029 418v3h1v-3zM1029 424v3h1v-3zM1029 430v3h1v-3zM1029 436v3h1v-3zM1029 442v3h1v-3zM1029 448v3h1v-3zM1029 454v3h1v-3zM1029 460v3h1v-3zM1029 466v3h1v-3zM1029 472v3h1v-3zM1029 478v3h1v-3zM1029 484v3h1v-3zM1029 490v3h1v-3zM1029 496v3h1v-3zM1029 502v3h1v-3zM1029 508v3h1v-3zM1029 514v3h1v-3zM1029 520v3h1v-3zM1029 526v3h1v-3z" fill="#5f5f5f"/>
<path d="M1093 5v2h1v-2zM1093 10v3h1v-3zM1093 16v3h1v-3zM1093 22v3h1v-3zM1093 28v3h1v-3zM1093 34v3h1v-3zM1093 40v3h1v-3zM1093 46v3h1v-3zM1093 52v3h1v-3zM1093 58v3h1v-3zM1093 64v3h1v-3zM1093 70v3h1v-3zM1093 76v3h1v-3zM1093 82v3h1v-3zM1093 88v3h1v-3zM1093 94v3h1v-3zM1093 100v3h1v-3zM1093 106v3h1v-3zM1093 112v3h1v-3zM1093 118v3h1v-3zM1093 124v3h1v-3zM1093 130v3h1v-3zM1093 136v3h1v-3zM1093 142v3h1v-3zM1093 148v3h1v-3zM1093 154v3h1v-3zM1093 160v3h1v-3zM1093 166v3h1v-3zM1093 172v3h1v-3zM1093 178v3h1v-3zM1093 184v3h1v-3zM1093 190v3h1v-3zM1093 196v3h1v-3zM1093 202v3h1v-3zM1093 208v3h1v-3zM1093 214v3h1v-3zM1093 220v3h1v-3zM1093 226v3h1v-3zM1093 232v3h1v-3zM1093 238v3h1v-3zM1093 244v3h1v-3zM1093 250v3h1v-3zM1093 256v3h1v-3zM1093 262v3h1v-3zM1093 268v3h1v-3zM1093 274v3h1v-3zM1093 280v3h1v-3zM1093 286v3h1v-3zM1093 292v3h1v-3zM1093 298v3h1v-3zM1093 304v3h1v-3zM1093 310v3h1v-3zM1093 316v3h1v-3zM1093 322v3h1v-3zM1093 328v3h1v-3zM1093 334v3h1v-3zM1093 340v3h1v-3zM1093 346v3h1v-3zM1093 352v3h1v-3zM1093 358v3h1v-3zM1093 364v3h1v-3zM1093 370v3h1v-3zM1093 376v3h1v-3zM1093 382v3h1v-3zM1093 388v3h1v-3zM1093 394v3h1v-3zM1093 400v3h1v-3zM1093 406v3h1v-3zM1093 412v3h1v-3zM1093 418v3h1v-3zM1093 424v3h1v-3zM1093 430v3h1v-3zM1093 436v3h1v-3zM1093 442v3h1v-3zM1093 448v3h1v-3zM1093 454v3h1v-3zM1093 460v3h1v-3zM1093 466v3h1v-3zM1093 472v3h1v-3zM1093 478v3h1v-3zM1093 484v3h1v-3zM1093 490v3h1v-3zM1093 496v3h1v-3zM1093 502v3h1v-3zM1093 508v3h1v-3zM1093 514v3h1v-3zM1093 520v3h1v-3zM1093 526v3h1v-3z" fill="#5f5f5f"/>
<path d="M1157 5v2h1v-2zM1157 10v3h1v-3zM1157 16v3h1v-3zM1157 22v3h1v-3zM1157 28v3h1v-3zM1157 34v3h1v-3zM1157 40v3h1v-3zM1157 46v3h1v-3zM1157 52v3h1v-3zM1157 58v3h1v-3zM1157 64v3h1v-3zM1157 70v3h1v-3zM1157 76v3h1v-3zM1157 82v3h1v-3zM1157 88v3h1v-3zM1157 94v3h1v-3zM1157 100v3h1v-3zM1157 106v3h1v-3zM1157 112v3h1v-3zM1157 118v3h1v-3zM1157 124v3h1v-3zM1157 130v3h1v-3zM1157 136v3h1v-3zM1157 142v3h1v-3zM1157 148v3h1v-3zM1157 154v3h1v-3zM1157 160v3h1v-3zM1157 166v3h1v-3zM1157 172v3h1v-3zM1157 178v3h1v-3zM1157 184v3h1v-3zM1157 190v3h1v-3zM1157 196v3h1v-3zM1157 202v3h1v-3zM1157 208v3h1v-3zM1157 214v3h1v-3zM1157 220v3h1v-3zM1157 226v3h1v-3zM1157 232v3h1v-3zM1157 238v3h1v-3zM1157 244v3h1v-3zM1157 250v3h1v-3zM1157 256v3h1v-3zM1157 262v3h1v-3zM1157 268v3h1v-3zM1157 274v3h1v-3zM1157 280v3h1v-3zM1157 286v3h1v-3zM1157 292v3h1v-3zM1157 298v3h1v-3zM1157 304v3h1v-3zM1157 310v3h1v-3zM1157 316v3h1v-3zM1157 322v3h1v-3zM1157 328v3h1v-3zM1157 334v3h1v-3zM1157 340v3h1v-3zM1157 346v3h1v-3zM1157 352v3h1v-3zM1157 358v3h1v-3zM1157 364v3h1v-3zM1157 370v3h1v-3zM1157 376v3h1v-3zM1157 382v3h1v-3zM1157 388v3h1v-3zM1157 394v3h1v-3zM1157 400v3h1v-3zM1157 406v3h1v-3zM1157 412v3h1v-3zM1157 418v3h1v-3zM1157 424v3h1v-3zM1157 430v3h1v-3zM1157 436v3h1v-3zM1157 442v3h1v-3zM1157 448v3h1v-3zM1157 454v3h1v-3zM1157 460v3h1v-3zM1157 466v3h1v-3zM1157 472v3h1v-3zM1157 478v3h1v-3zM1157 484v3h1v-3zM1157 490v3h1v-3zM1157 496v3h1v-3zM1157 502v3h1v-3zM1157 508v3h1v-3zM1157 514v3h1v-3zM1157 520v3h1v-3zM1157 526v3h1v-3z" fill="#5f5f5f"/>
<path d="M1221 5v2h1v-2zM1221 10v3h1v-3zM1221 16v3h1v-3zM1221 22v3h1v-3zM1221 28v3h1v-3zM1221 34v3h1v-3zM1221 40v3h1v-3zM1221 46v3h1v-3zM1221 52v3h1v-3zM1221 58v3h1v-3zM1221 64v3h1v-3zM1221 70v3h1v-3zM1221 76v3h1v-3zM1221 82v3h1v-3zM1221 88v3h1v-3zM1221 94v3h1v-3zM1221 100v3h1v-3zM1221 106v3h1v-3zM1221 112v3h1v-3zM1221 118v3h1v-3zM1221 124v3h1v-3zM1221 130v3h1v-3zM1221 136v3h1v-3zM1221 142v3h1v-3zM1221 148v3h1v-3zM1221 154v3h1v-3zM1221 160v3h1v-3zM1221 166v3h1v-3zM1221 172v3h1v-3zM1221 178v3h1v-3zM1221 184v3h1v-3zM1221 190v3h1v-3zM1221 196v3h1v-3zM1221 202v3h1v-3zM1221 208v3h1v-3zM1221 214v3h1v-3zM1221 220v3h1v-3zM1221 226v3h1v-3zM1221 232v3h1v-3zM1221 238v3h1v-3zM1221 244v3h1v-3zM1221 250v3h1v-3zM1221 256v3h1v-3zM1221 262v3h1v-3zM1221 268v3h1v-3zM1221 274v3h1v-3zM1221 280v3h1v-3zM1221 286v3h1v-3zM1221 292v3h1v-3zM1221 298v3h1v-3zM1221 304v3h1v-3zM1221 310v3h1v-3zM1221 316v3h1v-3zM1221 322v3h1v-3zM1221 328v3h1v-3zM1221 334v3h1v-3zM1221 340v3h1v-3zM1221 346v3h1v-3zM1221 352v3h1v-3zM1221 358v3h1v-3zM1221 364v3h1v-3zM1221 370v3h1v-3zM1221 376v3h1v-3zM1221 382v3h1v-3zM1221 388v3h1v-3zM1221 394v3h1v-3zM1221 400v3h1v-3zM1221 406v3h1v-3zM1221 412v3h1v-3zM1221 418v3h1v-3zM1221 424v3h1v-3zM1221 430v3h1v-3zM1221 436v3h1v-3zM1221 442v3h1v-3zM1221 448v3h1v-3zM1221 454v3h1v-3zM1221 460v3h1v-3zM1221 466v3h1v-3zM1221 472v3h1v-3zM1221 478v3h1v-3zM1221 484v3h1v-3zM1221 490v3h1v-3zM1221 496v3h1v-3zM1221 502v3h1v-3zM1221 508v3h1v-3zM1221 514v3h1v-3zM1221 520v3h1v-3zM1221 526v3h1v-3z" fill="#5f5f5f"/>
<path d="M1285 5v2h1v-2zM1285 10v3h1v-3zM1285 16v3h1v-3zM1285 22v3h1v-3zM1285 28v3h1v-3zM1285 34v3h1v-3zM1285 40v3h1v-3zM1285 46v3h1v-3zM1285 52v3h1v-3zM1285 58v3h1v-3zM1285 64v3h1v-3zM1285 70v3h1v-3zM1285 76v3h1v-3zM1285 82v3h1v-3zM1285 88v3h1v-3zM1285 94v3h1v-3zM1285 100v3h1v-3zM1285 106v3h1v-3zM1285 112v3h1v-3zM1285 118v3h1v-3zM1285 124v3h1v-3zM1285 130v3h1v-3zM1285 136v3h1v-3zM1285 142v3h1v-3zM1285 148v3h1v-3zM1285 154v3h1v-3zM1285 160v3h1v-3zM1285 166v3h1v-3zM1285 172v3h1v-3zM1285 178v3h1v-3zM1285 184v3h1v-3zM1285 190v3h1v-3zM1285 196v3h1v-3zM1285 202v3h1v-3zM1285 208v3h1v-3zM1285 214v3h1v-3zM1285 220v3h1v-3zM1285 226v3h1v-3zM1285 232v3h1v-3zM1285 238v3h1v-3zM1285 244v3h1v-3zM1285 250v3h1v-3zM1285 256v3h1v-3zM1285 262v3h1v-3zM1285 268v3h1v-3zM1285 274v3h1v-3zM1285 280v3h1v-3zM1285 286v3h1v-3zM1285 292v3h1v-3zM1285 298v3h1v-3zM1285 304v3h1v-3zM1285 310v3h1v-3zM1285 316v3h1v-3zM1285 322v3h1v-3zM1285 328v3h1v-3zM1285 334v3h1v-3zM1285 340v3h1v-3zM1285 346v3h1v-3zM1285 352v3h1v-3zM1285 358v3h1v-3zM1285 364v3h1v-3zM1285 370v3h1v-3zM1285 376v3h1v-3zM1285 382v3h1v-3zM1285 388v3h1v-3zM1285 394v3h1v-3zM1285 400v3h1v-3zM1285 406v3h1v-3zM1285 412v3h1v-3zM1285 418v3h1v-3zM1285 424v3h1v-3zM1285 430v3h1v-3zM1285 436v3h1v-3zM1285 442v3h1v-3zM1285 448v3h1v-3zM1285 454v3h1v-3zM1285 460v3h1v-3zM1285 466v3h1v-3zM1285 472v3h1v-3zM1285 478v3h1v-3zM1285 484v3h1v-3zM1285 490v3h1v-3zM1285 496v3h1v-3zM1285 502v3h1v-3zM1285 508v3h1v-3zM1285 514v3h1v-3zM1285 520v3h1v-3zM1285 526v3h1v-3z" fill="#5f5f5f"/>
<path d="M1349 5v2h1v-2zM1349 10v3h1v-3zM1349 16v3h1v-3zM1349 22v3h1v-3zM1349 28v3h1v-3zM1349 34v3h1v-3zM1349 40v3h1v-3zM1349 46v3h1v-3zM1349 52v3h1v-3zM1349 58v3h1v-3zM1349 64v3h1v-3zM1349 70v3h1v-3zM1349 76v3h1v-3zM1349 82v3h1v-3zM1349 88v3h1v-3zM1349 94v3h1v-3zM1349 100v3h1v-3zM1349 106v3h1v-3zM1349 112v3h1v-3zM1349 118v3h1v-3zM1349 124v3h1v-3zM1349 130v3h1v-3zM1349 136v3h1v-3zM1349 142v3h1v-3zM1349 148v3h1v-3zM1349 154v3h1v-3zM1349 160v3h1v-3zM1349 166v3h1v-3zM1349 172v3h1v-3zM1349 178v3h1v-3zM1349 184v3h1v-3zM1349 190v3h1v-3zM1349 196v3h1v-3zM1349 202v3h1v-3zM1349 208v3h1v-3zM1349 214v3h1v-3zM1349 220v3h1v-3zM1349 226v3h1v-3zM1349 232v3h1v-3zM1349 238v3h1v-3zM1349 244v3h1v-3zM1349 250v3h1v-3zM1349 256v3h1v-3zM1349 262v3h1v-3zM1349 268v3h1v-3zM1349 274v3h1v-3zM1349 280v3h1v-3zM1349 286v3h1v-3zM1349 292v3h1v-3zM1349 298v3h1v-3zM1349 304v3h1v-3zM1349 310v3h1v-3zM1349 316v3h1v-3zM1349 322v3h1v-3zM1349 328v3h1v-3zM1349 334v3h1v-3zM1349 340v3h1v-3zM1349 346v3h1v-3zM1349 352v3h1v-3zM1349 358v3h1v-3zM1349 364v3h1v-3zM1349 370v3h1v-3zM1349 376v3h1v-3zM1349 382v3h1v-3zM1349 388v3h1v-3zM1349 394v3h1v-3zM1349 400v3h1v-3zM1349 406v3h1v-3zM1349 412v3h1v-3zM1349 418v3h1v-3zM1349 424v3h1v-3zM1349 430v3h1v-3zM1349 436v3h1v-3zM1349 442v3h1v-3zM1349 448v3h1v-3zM1349 454v3h1v-3zM1349 460v3h1v-3zM1349 466v3h1v-3zM1349 472v3h1v-3zM1349 478v3h1v-3zM1349 484v3h1v-3zM1349 490v3h1v-3zM1349 496v3h1v-3zM1349 502v3h1v-3zM1349 508v3h1v-3zM1349 514v3h1v-3zM1349 520v3h1v-3zM1349 526v3h1v-3z" fill="#5f5f5f"/>
<path d="M1413 5v2h1v-2zM1413 10v3h1v-3zM1413 16v3h1v-3zM1413 22v3h1v-3zM1413 28v3h1v-3zM1413 34v3h1v-3zM1413 40v3h1v-3zM1413 46v3h1v-3zM1413 52v3h1v-3zM1413 58v3h1v-3zM1413 64v3h1v-3zM1413 70v3h1v-3zM1413 76v3h1v-3zM1413 82v3h1v-3zM1413 88v3h1v-3zM1413 94v3h1v-3zM1413 100v3h1v-3zM1413 106v3h1v-3zM1413 112v3h1v-3zM1413 118v3h1v-3zM1413 124v3h1v-3zM1413 130v3h1v-3zM1413 136v3h1v-3zM1413 142v3h1v-3zM1413 148v3h1v-3zM1413 154v3h1v-3zM1413 160v3h1v-3zM1413 166v3h1v-3zM1413 172v3h1v-3zM1413 178v3h1v-3zM1413 184v3h1v-3zM1413 190v3h1v-3zM1413 196v3h1v-3zM1413 202v3h1v-3zM1413 208v3h1v-3zM1413 214v3h1v-3zM1413 220v3h1v-3zM1413 226v3h1v-3zM1413 232v3h1v-3zM1413 238v3h1v-3zM1413 244v3h1v-3zM1413 250v3h1v-3zM1413 256v3h1v-3zM1413 262v3h1v-3zM1413 268v3h1v-3zM1413 274v3h1v-3zM1413 280v3h1v-3zM1413 286v3h1v-3zM1413 292v3h1v-3zM1413 298v3h1v-3zM1413 304v3h1v-3zM1413 310v3h1v-3zM1413 316v3h1v-3zM1413 322v3h1v-3zM1413 328v3h1v-3zM1413 334v3h1v-3zM1413 340v3h1v-3zM1413 346v3h1v-3zM1413 352v3h1v-3zM1413 358v3h1v-3zM1413 364v3h1v-3zM1413 370v3h1v-3zM1413 376v3h1v-3zM1413 382v3h1v-3zM1413 388v3h1v-3zM1413 394v3h1v-3zM1413 400v3h1v-3zM1413 406v3h1v-3zM1413 412v3h1v-3zM1413 418v3h1v-3zM1413 424v3h1v-3zM1413 430v3h1v-3zM1413 436v3h1v-3zM1413 442v3h1v-3zM1413 448v3h1v-3zM1413 454v3h1v-3zM1413 460v3h1v-3zM1413 466v3h1v-3zM1413 472v3h1v-3zM1413 478v3h1v-3zM1413 484v3h1v-3zM1413 490v3h1v-3zM1413 496v3h1v-3zM1413 502v3h1v-3zM1413 508v3h1v-3zM1413 514v3h1v-3zM1413 520v3h1v-3zM1413 526v3h1v-3z" fill="#5f5f5f"/>
<path d="M1477 5v2h1v-2zM1477 10v3h1v-3zM1477 16v3h1v-3zM1477 22v3h1v-3zM1477 28v3h1v-3zM1477 34v3h1v-3zM1477 40v3h1v-3zM1477 46v3h1v-3zM1477 52v3h1v-3zM1477 58v3h1v-3zM1477 64v3h1v-3zM1477 70v3h1v-3zM1477 76v3h1v-3zM1477 82v3h1v-3zM1477 88v3h1v-3zM1477 94v3h1v-3zM1477 100v3h1v-3zM1477 106v3h1v-3zM1477 112v3h1v-3zM1477 118v3h1v-3zM1477 124v3h1v-3zM1477 130v3h1v-3zM1477 136v3h1v-3zM1477 142v3h1v-3zM1477 148v3h1v-3zM1477 154v3h1v-3zM1477 160v3h1v-3zM1477 166v3h1v-3zM1477 172v3h1v-3zM1477 178v3h1v-3zM1477 184v3h1v-3zM1477 190v3h1v-3zM1477 196v3h1v-3zM1477 202v3h1v-3zM1477 208v3h1v-3zM1477 214v3h1v-3zM1477 220v3h1v-3zM1477 226v3h1v-3zM1477 232v3h1v-3zM1477 238v3h1v-3zM1477 244v3h1v-3zM1477 250v3h1v-3zM1477 256v3h1v-3zM1477 262v3h1v-3zM1477 268v3h1v-3zM1477 274v3h1v-3zM1477 280v3h1v-3zM1477 286v3h1v-3zM1477 292v3h1v-3zM1477 298v3h1v-3zM1477 304v3h1v-3zM1477 310v3h1v-3zM1477 316v3h1v-3zM1477 322v3h1v-3zM1477 328v3h1v-3zM1477 334v3h1v-3zM1477 340v3h1v-3zM1477 346v3h1v-3zM1477 352v3h1v-3zM1477 358v3h1v-3zM1477 364v3h1v-3zM1477 370v3h1v-3zM1477 376v3h1v-3zM1477 382v3h1v-3zM1477 388v3h1v-3zM1477 394v3h1v-3zM1477 400v3h1v-3zM1477 406v3h1v-3zM1477 412v3h1v-3zM1477 418v3h1v-3zM1477 424v3h1v-3zM1477 430v3h1v-3zM1477 436v3h1v-3zM1477 442v3h1v-3zM1477 448v3h1v-3zM1477 454v3h1v-3zM1477 460v3h1v-3zM1477 466v3h1v-3zM1477 472v3h1v-3zM1477 478v3h1v-3zM1477 484v3h1v-3zM1477 490v3h1v-3zM1477 496v3h1v-3zM1477 502v3h1v-3zM1477 508v3h1v-3zM1477 514v3h1v-3zM1477 520v3h1v-3zM1477 526v3h1v-3z" fill="#5f5f5f"/>
<rect x="5" y="74" width="1517" height="1" fill="#696969"/>
<rect x="0" y="432" width="11" height="46" fill="#000"/>
<rect x="1" y="433" width="9" height="44" fill="#ff0000"/>
<rect x="21" y="427" width="1" height="6" fill="#000"/>
<rect x="21" y="443" width="1" height="16" fill="#000"/>
<rect x="16" y="432" width="11" height="12" fill="#000"/>
<rect x="17" y="433" width="9" height="10" fill="#00ff00"/>
<rect x="37" y="423" width="1" height="4" fill="#000"/>
<rect x="37" y="443" width="1" height="7" fill="#000"/>
<rect x="32" y="426" width="11" height="18" fill="#000"/>
<rect x="33" y="427" width="9" height="16" fill="#ff0000"/>
<rect x="53" y="390" width="1" height="27" fill="#000"/>
<rect x="53" y="441" width="1" height="6" fill="#000"/>
<rect x="48" y="416" width="11" height="26" fill="#000"/>
<rect x="49" y="417" width="9" height="24" fill="#ff0000"/>
<rect x="69" y="386" width="1" height="3" fill="#000"/>
<rect x="69" y="415" width="1" height="12" fill="#000"/>
<rect x="64" y="388" width="11" height="28" fill="#000"/>
<rect x="65" y="389" width="9" height="26" fill="#ff0000"/>
<rect x="85" y="425" width="1" height="2" fill="#000"/>
<rect x="80" y="388" width="11" height="38" fill="#000"/>
<rect x="81" y="389" width="9" height="36" fill="#00ff00"/>
<rect x="101" y="400" width="1" height="18" fill="#000"/>
<rect x="101" y="425" width="1" height="2" fill="#000"/>
<rect x="96" y="417" width="11" height="9" fill="#000"/>
<rect x="97" y="418" width="9" height="7" fill="#ff0000"/>
<rect x="117" y="401" width="1" height="11" fill="#000"/>
<rect x="112" y="367" width="11" height="35" fill="#000"/>
<rect x="113" y="368" width="9" height="33" fill="#ff0000"/>
<rect x="133" y="354" width="1" height="14" fill="#000"/>
<rect x="133" y="416" width="1" height="12" fill="#000"/>
<rect x="128" y="367" width="11" height="50" fill="#000"/>
<rect x="129" y="368" width="9" height="48" fill="#00ff00"/>
<rect x="149" y="392" width="1" height="5" fill="#000"/>
<rect x="149" y="416" width="1" height="10" fill="#000"/>
<rect x="144" y="396" width="11" height="21" fill="#000"/>
<rect x="145" y="397" width="9" height="19" fill="#ff0000"/>
<rect x="165" y="358" width="1" height="5" fill="#000"/>
<rect x="165" y="395" width="1" height="8" fill="#000"/>
<rect x="160" y="362" width="11" height="34" fill="#000"/>
<rect x="161" y="363" width="9" height="32" fill="#ff0000"/>
<rect x="181" y="347" width="1" height="26" fill="#000"/>
<rect x="176" y="372" width="11" height="24" fill="#000"/>
<rect x="177" y="373" width="9" height="22" fill="#00ff00"/>
<rect x="197" y="363" width="1" height="28" fill="#000"/>
<rect x="197" y="395" width="1" height="3" fill="#000"/>
<rect x="192" y="390" width="11" height="6" fill="#000"/>
<rect x="193" y="391" width="9" height="4" fill="#ff0000"/>
<rect x="213" y="380" width="1" height="11" fill="#000"/>
<rect x="213" y="410" width="1" height="9" fill="#000"/>
<rect x="208" y="390" width="11" height="21" fill="#000"/>
<rect x="209" y="391" width="9" height="19" fill="#00ff00"/>
<rect x="229" y="389" width="1" height="12" fill="#000"/>
<rect x="229" y="410" width="1" height="7" fill="#000"/>
<rect x="224" y="400" width="11" height="11" fill="#000"/>
<rect x="225" y="401" width="9" height="9" fill="#ff0000"/>
<rect x="245" y="397" width="1" height="7" fill="#000"/>
<rect x="245" y="427" width="1" height="3" fill="#000"/>
<rect x="240" y="403" width="11" height="25" fill="#000"/>
<rect x="241" y="404" width="9" height="23" fill="#ff0000"/>
<rect x="261" y="369" width="1" height="7" fill="#000"/>
<rect x="261" y="403" width="1" height="6" fill="#000"/>
<rect x="256" y="375" width="11" height="29" fill="#000"/>
<rect x="257" y="376" width="9" height="27" fill="#ff0000"/>
<rect x="277" y="332" width="1" height="5" fill="#000"/>
<rect x="277" y="376" width="1" height="11" fill="#000"/>
<rect x="272" y="336" width="11" height="41" fill="#000"/>
<rect x="273" y="337" width="9" height="39" fill="#ff0000"/>
<rect x="293" y="312" width="1" height="16" fill="#000"/>
<rect x="293" y="335" width="1" height="9" fill="#000"/>
<rect x="288" y="327" width="11" height="9" fill="#000"/>
<rect x="289" y="328" width="9" height="7" fill="#ff0000"/>
<rect x="309" y="356" width="1" height="14" fill="#000"/>
<rect x="309" y="401" width="1" height="15" fill="#000"/>
<rect x="304" y="369" width="11" height="33" fill="#000"/>
<rect x="305" y="370" width="9" height="31" fill="#00ff00"/>
<rect x="325" y="371" width="1" height="29" fill="#000"/>
<rect x="325" y="401" width="1" height="8" fill="#000"/>
<rect x="320" y="399" width="11" height="3" fill="#000"/>
<rect x="321" y="400" width="9" height="1" fill="#ff0000"/>
<rect x="341" y="387" width="1" height="13" fill="#000"/>
<rect x="341" y="406" width="1" height="4" fill="#000"/>
<rect x="336" y="399" width="11" height="8" fill="#000"/>
<rect x="337" y="400" width="9" height="6" fill="#00ff00"/>
<rect x="357" y="378" width="1" height="7" fill="#000"/>
<rect x="357" y="406" width="1" height="13" fill="#000"/>
<rect x="352" y="384" width="11" height="23" fill="#000"/>
<rect x="353" y="385" width="9" height="21" fill="#ff0000"/>
<rect x="373" y="435" width="1" height="29" fill="#000"/>
<rect x="373" y="470" width="1" height="13" fill="#000"/>
<rect x="368" y="463" width="11" height="8" fill="#000"/>
<rect x="369" y="464" width="9" height="6" fill="#00ff00"/>
<rect x="389" y="459" width="1" height="12" fill="#000"/>
<rect x="389" y="511" width="1" height="8" fill="#000"/>
<rect x="384" y="470" width="11" height="42" fill="#000"/>
<rect x="385" y="471" width="9" height="40" fill="#00ff00"/>
<rect x="400" y="462" width="11" height="50" fill="#000"/>
<rect x="401" y="463" width="9" height="48" fill="#ff0000"/>
<rect x="421" y="370" width="1" height="3" fill="#000"/>
<rect x="421" y="462" width="1" height="6" fill="#000"/>
<rect x="416" y="372" width="11" height="91" fill="#000"/>
<rect x="417" y="373" width="9" height="89" fill="#ff0000"/>
<rect x="437" y="323" width="1" height="16" fill="#000"/>
<rect x="437" y="360" width="1" height="12" fill="#000"/>
<rect x="432" y="338" width="11" height="23" fill="#000"/>
<rect x="433" y="339" width="9" height="21" fill="#ff0000"/>
<rect x="453" y="287" width="1" height="6" fill="#000"/>
<rect x="453" y="338" width="1" height="7" fill="#000"/>
<rect x="448" y="292" width="11" height="47" fill="#000"/>
<rect x="449" y="293" width="9" height="45" fill="#ff0000"/>
<rect x="469" y="229" width="1" height="4" fill="#000"/>
<rect x="464" y="232" width="11" height="61" fill="#000"/>
<rect x="465" y="233" width="9" height="59" fill="#ff0000"/>
<rect x="485" y="231" width="1" height="2" fill="#000"/>
<rect x="485" y="315" width="1" height="11" fill="#000"/>
<rect x="480" y="232" width="11" height="84" fill="#000"/>
<rect x="481" y="233" width="9" height="82" fill="#00ff00"/>
<rect x="501" y="279" width="1" height="20" fill="#000"/>
<rect x="501" y="310" width="1" height="7" fill="#000"/>
<rect x="496" y="298" width="11" height="13" fill="#000"/>
<rect x="497" y="299" width="9" height="11" fill="#00ff00"/>
<rect x="517" y="287" width="1" height="5" fill="#000"/>
<rect x="517" y="310" width="1" height="5" fill="#000"/>
<rect x="512" y="291" width="11" height="20" fill="#000"/>
<rect x="513" y="292" width="9" height="18" fill="#ff0000"/>
<rect x="533" y="339" width="1" height="2" fill="#000"/>
<rect x="528" y="292" width="11" height="48" fill="#000"/>
<rect x="529" y="293" width="9" height="46" fill="#00ff00"/>
<rect x="549" y="322" width="1" height="19" fill="#000"/>
<rect x="549" y="351" width="1" height="7" fill="#000"/>
<rect x="544" y="340" width="11" height="12" fill="#000"/>
<rect x="545" y="341" width="9" height="10" fill="#00ff00"/>
<rect x="565" y="290" width="1" height="25" fill="#000"/>
<rect x="560" y="314" width="11" height="55" fill="#000"/>
<rect x="561" y="315" width="9" height="53" fill="#ff0000"/>
<rect x="581" y="304" width="1" height="12" fill="#000"/>
<rect x="581" y="330" width="1" height="44" fill="#000"/>
<rect x="576" y="315" width="11" height="16" fill="#000"/>
<rect x="577" y="316" width="9" height="14" fill="#00ff00"/>
<rect x="597" y="280" width="1" height="16" fill="#000"/>
<rect x="597" y="324" width="1" height="3" fill="#000"/>
<rect x="592" y="295" width="11" height="30" fill="#000"/>
<rect x="593" y="296" width="9" height="28" fill="#ff0000"/>
<rect x="613" y="261" width="1" height="19" fill="#000"/>
<rect x="613" y="295" width="1" height="16" fill="#000"/>
<rect x="608" y="279" width="11" height="17" fill="#000"/>
<rect x="609" y="280" width="9" height="15" fill="#ff0000"/>
<rect x="629" y="255" width="1" height="3" fill="#000"/>
<rect x="629" y="290" width="1" height="14" fill="#000"/>
<rect x="624" y="257" width="11" height="34" fill="#000"/>
<rect x="625" y="258" width="9" height="32" fill="#00ff00"/>
<rect x="645" y="208" width="1" height="48" fill="#000"/>
<rect x="645" y="290" width="1" height="2" fill="#000"/>
<rect x="640" y="255" width="11" height="36" fill="#000"/>
<rect x="641" y="256" width="9" height="34" fill="#ff0000"/>
<rect x="661" y="236" width="1" height="16" fill="#000"/>
<rect x="661" y="255" width="1" height="24" fill="#000"/>
<rect x="656" y="251" width="11" height="5" fill="#000"/>
<rect x="657" y="252" width="9" height="3" fill="#ff0000"/>
<rect x="677" y="240" width="1" height="12" fill="#000"/>
<rect x="672" y="251" width="11" height="23" fill="#000"/>
<rect x="673" y="252" width="9" height="21" fill="#00ff00"/>
<rect x="693" y="233" width="1" height="25" fill="#000"/>
<rect x="693" y="273" width="1" height="17" fill="#000"/>
<rect x="688" y="257" width="11" height="17" fill="#000"/>
<rect x="689" y="258" width="9" height="15" fill="#ff0000"/>
<rect x="709" y="232" width="1" height="5" fill="#000"/>
<rect x="709" y="257" width="1" height="23" fill="#000"/>
<rect x="704" y="236" width="11" height="22" fill="#000"/>
<rect x="705" y="237" width="9" height="20" fill="#ff0000"/>
<rect x="725" y="218" width="1" height="19" fill="#000"/>
<rect x="725" y="283" width="1" height="6" fill="#000"/>
<rect x="720" y="236" width="11" height="48" fill="#000"/>
<rect x="721" y="237" width="9" height="46" fill="#00ff00"/>
<rect x="741" y="250" width="1" height="21" fill="#000"/>
<rect x="741" y="283" width="1" height="23" fill="#000"/>
<rect x="736" y="270" width="11" height="14" fill="#000"/>
<rect x="737" y="271" width="9" height="12" fill="#ff0000"/>
<rect x="757" y="261" width="1" height="5" fill="#000"/>
<rect x="757" y="275" width="1" height="20" fill="#000"/>
<rect x="752" y="265" width="11" height="11" fill="#000"/>
<rect x="753" y="266" width="9" height="9" fill="#00ff00"/>
<rect x="773" y="268" width="1" height="8" fill="#000"/>
<rect x="773" y="288" width="1" height="25" fill="#000"/>
<rect x="768" y="275" width="11" height="14" fill="#000"/>
<rect x="769" y="276" width="9" height="12" fill="#00ff00"/>
<rect x="789" y="275" width="1" height="14" fill="#000"/>
<rect x="789" y="300" width="1" height="8" fill="#000"/>
<rect x="784" y="288" width="11" height="13" fill="#000"/>
<rect x="785" y="289" width="9" height="11" fill="#00ff00"/>
<rect x="805" y="295" width="1" height="7" fill="#000"/>
<rect x="805" y="332" width="1" height="3" fill="#000"/>
<rect x="800" y="301" width="11" height="32" fill="#000"/>
<rect x="801" y="302" width="9" height="30" fill="#00ff00"/>
<rect x="821" y="283" width="1" height="28" fill="#000"/>
<rect x="821" y="314" width="1" height="10" fill="#000"/>
<rect x="816" y="310" width="11" height="5" fill="#000"/>
<rect x="817" y="311" width="9" height="3" fill="#00ff00"/>
<rect x="837" y="288" width="1" height="6" fill="#000"/>
<rect x="837" y="315" width="1" height="4" fill="#000"/>
<rect x="832" y="293" width="11" height="23" fill="#000"/>
<rect x="833" y="294" width="9" height="21" fill="#ff0000"/>
<rect x="853" y="293" width="1" height="3" fill="#000"/>
<rect x="848" y="250" width="11" height="44" fill="#000"/>
<rect x="849" y="251" width="9" height="42" fill="#ff0000"/>
<rect x="869" y="233" width="1" height="3" fill="#000"/>
<rect x="869" y="250" width="1" height="9" fill="#000"/>
<rect x="864" y="235" width="11" height="16" fill="#000"/>
<rect x="865" y="236" width="9" height="14" fill="#ff0000"/>
<rect x="885" y="197" width="1" height="5" fill="#000"/>
<rect x="885" y="222" width="1" height="15" fill="#000"/>
<rect x="880" y="201" width="11" height="22" fill="#000"/>
<rect x="881" y="202" width="9" height="20" fill="#ff0000"/>
<rect x="901" y="191" width="1" height="12" fill="#000"/>
<rect x="901" y="219" width="1" height="4" fill="#000"/>
<rect x="896" y="202" width="11" height="18" fill="#000"/>
<rect x="897" y="203" width="9" height="16" fill="#00ff00"/>
<rect x="917" y="183" width="1" height="6" fill="#000"/>
<rect x="917" y="219" width="1" height="8" fill="#000"/>
<rect x="912" y="188" width="11" height="32" fill="#000"/>
<rect x="913" y="189" width="9" height="30" fill="#ff0000"/>
<rect x="933" y="167" width="1" height="14" fill="#000"/>
<rect x="933" y="188" width="1" height="13" fill="#000"/>
<rect x="928" y="180" width="11" height="9" fill="#000"/>
<rect x="929" y="181" width="9" height="7" fill="#ff0000"/>
<rect x="949" y="109" width="1" height="3" fill="#000"/>
<rect x="944" y="111" width="11" height="47" fill="#000"/>
<rect x="945" y="112" width="9" height="45" fill="#ff0000"/>
<rect x="965" y="82" width="1" height="30" fill="#000"/>
<rect x="965" y="114" width="1" height="2" fill="#000"/>
<rect x="960" y="111" width="11" height="4" fill="#000"/>
<rect x="961" y="112" width="9" height="2" fill="#00ff00"/>
<rect x="981" y="100" width="1" height="15" fill="#000"/>
<rect x="981" y="122" width="1" height="24" fill="#000"/>
<rect x="976" y="114" width="11" height="9" fill="#000"/>
<rect x="977" y="115" width="9" height="7" fill="#00ff00"/>
<rect x="997" y="108" width="1" height="14" fill="#000"/>
<rect x="997" y="131" width="1" height="6" fill="#000"/>
<rect x="992" y="121" width="11" height="11" fill="#000"/>
<rect x="993" y="122" width="9" height="9" fill="#00ff00"/>
<rect x="1013" y="140" width="1" height="8" fill="#000"/>
<rect x="1013" y="157" width="1" height="4" fill="#000"/>
<rect x="1008" y="147" width="11" height="11" fill="#000"/>
<rect x="1009" y="148" width="9" height="9" fill="#00ff00"/>
<rect x="1029" y="112" width="1" height="18" fill="#000"/>
<rect x="1029" y="157" width="1" height="6" fill="#000"/>
<rect x="1024" y="129" width="11" height="29" fill="#000"/>
<rect x="1025" y="130" width="9" height="27" fill="#ff0000"/>
<rect x="1045" y="101" width="1" height="8" fill="#000"/>
<rect x="1045" y="129" width="1" height="4" fill="#000"/>
<rect x="1040" y="108" width="11" height="22" fill="#000"/>
<rect x="1041" y="109" width="9" height="20" fill="#ff0000"/>
<rect x="1061" y="54" width="1" height="17" fill="#000"/>
<rect x="1061" y="108" width="1" height="4" fill="#000"/>
<rect x="1056" y="70" width="11" height="39" fill="#000"/>
<rect x="1057" y="71" width="9" height="37" fill="#ff0000"/>
<rect x="1077" y="53" width="1" height="33" fill="#000"/>
<rect x="1077" y="97" width="1" height="5" fill="#000"/>
<rect x="1072" y="85" width="11" height="13" fill="#000"/>
<rect x="1073" y="86" width="9" height="11" fill="#00ff00"/>
<rect x="1093" y="60" width="1" height="37" fill="#000"/>
<rect x="1093" y="108" width="1" height="2" fill="#000"/>
<rect x="1088" y="96" width="11" height="13" fill="#000"/>
<rect x="1089" y="97" width="9" height="11" fill="#00ff00"/>
<rect x="1109" y="96" width="1" height="29" fill="#00ff00"/>
<rect x="1104" y="108" width="11" height="1" fill="#00ff00"/>
<rect x="1125" y="96" width="1" height="13" fill="#000"/>
<rect x="1125" y="130" width="1" height="14" fill="#000"/>
<rect x="1120" y="108" width="11" height="23" fill="#000"/>
<rect x="1121" y="109" width="9" height="21" fill="#00ff00"/>
<rect x="1136" y="83" width="11" height="42" fill="#000"/>
<rect x="1137" y="84" width="9" height="40" fill="#ff0000"/>
<rect x="1157" y="47" width="1" height="3" fill="#000"/>
<rect x="1157" y="83" width="1" height="13" fill="#000"/>
<rect x="1152" y="49" width="11" height="35" fill="#000"/>
<rect x="1153" y="50" width="9" height="33" fill="#ff0000"/>
<rect x="1173" y="40" width="1" height="13" fill="#000"/>
<rect x="1173" y="58" width="1" height="5" fill="#000"/>
<rect x="1168" y="52" width="11" height="7" fill="#000"/>
<rect x="1169" y="53" width="9" height="5" fill="#ff0000"/>
<rect x="1189" y="30" width="1" height="23" fill="#000"/>
<rect x="1189" y="74" width="1" height="11" fill="#000"/>
<rect x="1184" y="52" width="11" height="23" fill="#000"/>
<rect x="1185" y="53" width="9" height="21" fill="#00ff00"/>
</g>
<rect x="3" y="155" width="1520" height="5" rx="1" fill="#ff8c00"/>
<rect x="3" y="178" width="1520" height="5" rx="1" fill="#ff8c00"/>
<rect x="4" y="4" width="1517" height="527" fill="none" stroke="#000" stroke-width="1" transform="translate(0.5 0.5)"/>
<g shape-rendering="geometricPrecision">
<line x1="795.40" y1="340.90" x2="938.35" y2="103.25" stroke="#ff0000" stroke-width="6" stroke-linecap="round"/>
<polygon points="953.30,78.40 946.14,112.61 926.44,100.75" fill="#ff0000"/>
<line x1="952.50" y1="82.00" x2="1007.53" y2="139.97" stroke="#ff0000" stroke-width="6" stroke-linecap="butt"/>
<polygon points="1027.50,161.00 996.44,144.99 1013.12,129.15" fill="#ff0000"/>
<line x1="1027.50" y1="161.00" x2="1061.42" y2="81.47" stroke="#ff0000" stroke-width="6" stroke-linecap="butt"/>
<polygon points="1072.80,54.80 1070.43,89.67 1049.27,80.64" fill="#ff0000"/>
<line x1="1072.80" y1="54.80" x2="1127.69" y2="124.69" stroke="#ff0000" stroke-width="6" stroke-linecap="butt"/>
<polygon points="1145.60,147.50 1116.17,128.65 1134.26,114.44" fill="#ff0000"/>
<line x1="1145.60" y1="147.50" x2="1218.21" y2="30.44" stroke="#ff0000" stroke-width="6" stroke-linecap="butt"/>
<polygon points="1233.50,5.80 1225.88,39.90 1206.33,27.78" fill="#ff0000"/>
<polygon points="1208.5,5 1224.5,5 1216.5,13" fill="#646464"/>
</g>
<rect x="69" y="532" width="1" height="1" fill="#5f5f5f"/>
<rect x="133" y="532" width="1" height="1" fill="#5f5f5f"/>
<rect x="197" y="532" width="1" height="1" fill="#5f5f5f"/>
<rect x="261" y="532" width="1" height="1" fill="#5f5f5f"/>
<rect x="325" y="532" width="1" height="1" fill="#5f5f5f"/>
<rect x="389" y="532" width="1" height="1" fill="#5f5f5f"/>
<rect x="453" y="532" width="1" height="1" fill="#5f5f5f"/>
<rect x="517" y="532" width="1" height="1" fill="#5f5f5f"/>
<rect x="581" y="532" width="1" height="1" fill="#5f5f5f"/>
<rect x="645" y="532" width="1" height="1" fill="#5f5f5f"/>
<rect x="709" y="532" width="1" height="1" fill="#5f5f5f"/>
<rect x="773" y="532" width="1" height="1" fill="#5f5f5f"/>
<rect x="837" y="532" width="1" height="1" fill="#5f5f5f"/>
<rect x="901" y="532" width="1" height="1" fill="#5f5f5f"/>
<rect x="965" y="532" width="1" height="1" fill="#5f5f5f"/>
<rect x="1029" y="532" width="1" height="1" fill="#5f5f5f"/>
<rect x="1093" y="532" width="1" height="1" fill="#5f5f5f"/>
<rect x="1157" y="532" width="1" height="1" fill="#5f5f5f"/>
<rect x="1221" y="532" width="1" height="1" fill="#5f5f5f"/>
<rect x="1285" y="532" width="1" height="1" fill="#5f5f5f"/>
<rect x="1349" y="532" width="1" height="1" fill="#5f5f5f"/>
<rect x="1413" y="532" width="1" height="1" fill="#5f5f5f"/>
<rect x="1477" y="532" width="1" height="1" fill="#5f5f5f"/>
<g clip-path="url(#cd)">
<path d="M69 534v1h1v-1zM69 538v3h1v-3zM69 544v3h1v-3zM69 550v3h1v-3zM69 556v3h1v-3zM69 562v3h1v-3zM69 568v3h1v-3zM69 574v3h1v-3zM69 580v3h1v-3zM69 586v3h1v-3zM69 592v3h1v-3zM69 598v3h1v-3zM69 604v3h1v-3zM69 610v3h1v-3zM69 616v3h1v-3zM69 622v3h1v-3zM69 628v3h1v-3zM69 634v3h1v-3zM69 640v3h1v-3zM69 646v3h1v-3zM69 652v3h1v-3zM69 658v3h1v-3zM69 664v3h1v-3zM69 670v3h1v-3zM69 676v3h1v-3zM69 682v3h1v-3zM69 688v3h1v-3zM69 694v3h1v-3zM69 700v3h1v-3zM69 706v3h1v-3zM69 712v3h1v-3zM69 718v3h1v-3zM69 724v3h1v-3zM69 730v3h1v-3zM69 736v3h1v-3zM69 742v3h1v-3zM69 748v3h1v-3zM69 754v3h1v-3zM69 760v3h1v-3zM69 766v3h1v-3zM69 772v3h1v-3zM69 778v3h1v-3zM69 784v3h1v-3zM69 790v3h1v-3z" fill="#5f5f5f"/>
<path d="M133 534v1h1v-1zM133 538v3h1v-3zM133 544v3h1v-3zM133 550v3h1v-3zM133 556v3h1v-3zM133 562v3h1v-3zM133 568v3h1v-3zM133 574v3h1v-3zM133 580v3h1v-3zM133 586v3h1v-3zM133 592v3h1v-3zM133 598v3h1v-3zM133 604v3h1v-3zM133 610v3h1v-3zM133 616v3h1v-3zM133 622v3h1v-3zM133 628v3h1v-3zM133 634v3h1v-3zM133 640v3h1v-3zM133 646v3h1v-3zM133 652v3h1v-3zM133 658v3h1v-3zM133 664v3h1v-3zM133 670v3h1v-3zM133 676v3h1v-3zM133 682v3h1v-3zM133 688v3h1v-3zM133 694v3h1v-3zM133 700v3h1v-3zM133 706v3h1v-3zM133 712v3h1v-3zM133 718v3h1v-3zM133 724v3h1v-3zM133 730v3h1v-3zM133 736v3h1v-3zM133 742v3h1v-3zM133 748v3h1v-3zM133 754v3h1v-3zM133 760v3h1v-3zM133 766v3h1v-3zM133 772v3h1v-3zM133 778v3h1v-3zM133 784v3h1v-3zM133 790v3h1v-3z" fill="#5f5f5f"/>
<path d="M197 534v1h1v-1zM197 538v3h1v-3zM197 544v3h1v-3zM197 550v3h1v-3zM197 556v3h1v-3zM197 562v3h1v-3zM197 568v3h1v-3zM197 574v3h1v-3zM197 580v3h1v-3zM197 586v3h1v-3zM197 592v3h1v-3zM197 598v3h1v-3zM197 604v3h1v-3zM197 610v3h1v-3zM197 616v3h1v-3zM197 622v3h1v-3zM197 628v3h1v-3zM197 634v3h1v-3zM197 640v3h1v-3zM197 646v3h1v-3zM197 652v3h1v-3zM197 658v3h1v-3zM197 664v3h1v-3zM197 670v3h1v-3zM197 676v3h1v-3zM197 682v3h1v-3zM197 688v3h1v-3zM197 694v3h1v-3zM197 700v3h1v-3zM197 706v3h1v-3zM197 712v3h1v-3zM197 718v3h1v-3zM197 724v3h1v-3zM197 730v3h1v-3zM197 736v3h1v-3zM197 742v3h1v-3zM197 748v3h1v-3zM197 754v3h1v-3zM197 760v3h1v-3zM197 766v3h1v-3zM197 772v3h1v-3zM197 778v3h1v-3zM197 784v3h1v-3zM197 790v3h1v-3z" fill="#5f5f5f"/>
<path d="M261 534v1h1v-1zM261 538v3h1v-3zM261 544v3h1v-3zM261 550v3h1v-3zM261 556v3h1v-3zM261 562v3h1v-3zM261 568v3h1v-3zM261 574v3h1v-3zM261 580v3h1v-3zM261 586v3h1v-3zM261 592v3h1v-3zM261 598v3h1v-3zM261 604v3h1v-3zM261 610v3h1v-3zM261 616v3h1v-3zM261 622v3h1v-3zM261 628v3h1v-3zM261 634v3h1v-3zM261 640v3h1v-3zM261 646v3h1v-3zM261 652v3h1v-3zM261 658v3h1v-3zM261 664v3h1v-3zM261 670v3h1v-3zM261 676v3h1v-3zM261 682v3h1v-3zM261 688v3h1v-3zM261 694v3h1v-3zM261 700v3h1v-3zM261 706v3h1v-3zM261 712v3h1v-3zM261 718v3h1v-3zM261 724v3h1v-3zM261 730v3h1v-3zM261 736v3h1v-3zM261 742v3h1v-3zM261 748v3h1v-3zM261 754v3h1v-3zM261 760v3h1v-3zM261 766v3h1v-3zM261 772v3h1v-3zM261 778v3h1v-3zM261 784v3h1v-3zM261 790v3h1v-3z" fill="#5f5f5f"/>
<path d="M325 534v1h1v-1zM325 538v3h1v-3zM325 544v3h1v-3zM325 550v3h1v-3zM325 556v3h1v-3zM325 562v3h1v-3zM325 568v3h1v-3zM325 574v3h1v-3zM325 580v3h1v-3zM325 586v3h1v-3zM325 592v3h1v-3zM325 598v3h1v-3zM325 604v3h1v-3zM325 610v3h1v-3zM325 616v3h1v-3zM325 622v3h1v-3zM325 628v3h1v-3zM325 634v3h1v-3zM325 640v3h1v-3zM325 646v3h1v-3zM325 652v3h1v-3zM325 658v3h1v-3zM325 664v3h1v-3zM325 670v3h1v-3zM325 676v3h1v-3zM325 682v3h1v-3zM325 688v3h1v-3zM325 694v3h1v-3zM325 700v3h1v-3zM325 706v3h1v-3zM325 712v3h1v-3zM325 718v3h1v-3zM325 724v3h1v-3zM325 730v3h1v-3zM325 736v3h1v-3zM325 742v3h1v-3zM325 748v3h1v-3zM325 754v3h1v-3zM325 760v3h1v-3zM325 766v3h1v-3zM325 772v3h1v-3zM325 778v3h1v-3zM325 784v3h1v-3zM325 790v3h1v-3z" fill="#5f5f5f"/>
<path d="M389 534v1h1v-1zM389 538v3h1v-3zM389 544v3h1v-3zM389 550v3h1v-3zM389 556v3h1v-3zM389 562v3h1v-3zM389 568v3h1v-3zM389 574v3h1v-3zM389 580v3h1v-3zM389 586v3h1v-3zM389 592v3h1v-3zM389 598v3h1v-3zM389 604v3h1v-3zM389 610v3h1v-3zM389 616v3h1v-3zM389 622v3h1v-3zM389 628v3h1v-3zM389 634v3h1v-3zM389 640v3h1v-3zM389 646v3h1v-3zM389 652v3h1v-3zM389 658v3h1v-3zM389 664v3h1v-3zM389 670v3h1v-3zM389 676v3h1v-3zM389 682v3h1v-3zM389 688v3h1v-3zM389 694v3h1v-3zM389 700v3h1v-3zM389 706v3h1v-3zM389 712v3h1v-3zM389 718v3h1v-3zM389 724v3h1v-3zM389 730v3h1v-3zM389 736v3h1v-3zM389 742v3h1v-3zM389 748v3h1v-3zM389 754v3h1v-3zM389 760v3h1v-3zM389 766v3h1v-3zM389 772v3h1v-3zM389 778v3h1v-3zM389 784v3h1v-3zM389 790v3h1v-3z" fill="#5f5f5f"/>
<path d="M453 534v1h1v-1zM453 538v3h1v-3zM453 544v3h1v-3zM453 550v3h1v-3zM453 556v3h1v-3zM453 562v3h1v-3zM453 568v3h1v-3zM453 574v3h1v-3zM453 580v3h1v-3zM453 586v3h1v-3zM453 592v3h1v-3zM453 598v3h1v-3zM453 604v3h1v-3zM453 610v3h1v-3zM453 616v3h1v-3zM453 622v3h1v-3zM453 628v3h1v-3zM453 634v3h1v-3zM453 640v3h1v-3zM453 646v3h1v-3zM453 652v3h1v-3zM453 658v3h1v-3zM453 664v3h1v-3zM453 670v3h1v-3zM453 676v3h1v-3zM453 682v3h1v-3zM453 688v3h1v-3zM453 694v3h1v-3zM453 700v3h1v-3zM453 706v3h1v-3zM453 712v3h1v-3zM453 718v3h1v-3zM453 724v3h1v-3zM453 730v3h1v-3zM453 736v3h1v-3zM453 742v3h1v-3zM453 748v3h1v-3zM453 754v3h1v-3zM453 760v3h1v-3zM453 766v3h1v-3zM453 772v3h1v-3zM453 778v3h1v-3zM453 784v3h1v-3zM453 790v3h1v-3z" fill="#5f5f5f"/>
<path d="M517 534v1h1v-1zM517 538v3h1v-3zM517 544v3h1v-3zM517 550v3h1v-3zM517 556v3h1v-3zM517 562v3h1v-3zM517 568v3h1v-3zM517 574v3h1v-3zM517 580v3h1v-3zM517 586v3h1v-3zM517 592v3h1v-3zM517 598v3h1v-3zM517 604v3h1v-3zM517 610v3h1v-3zM517 616v3h1v-3zM517 622v3h1v-3zM517 628v3h1v-3zM517 634v3h1v-3zM517 640v3h1v-3zM517 646v3h1v-3zM517 652v3h1v-3zM517 658v3h1v-3zM517 664v3h1v-3zM517 670v3h1v-3zM517 676v3h1v-3zM517 682v3h1v-3zM517 688v3h1v-3zM517 694v3h1v-3zM517 700v3h1v-3zM517 706v3h1v-3zM517 712v3h1v-3zM517 718v3h1v-3zM517 724v3h1v-3zM517 730v3h1v-3zM517 736v3h1v-3zM517 742v3h1v-3zM517 748v3h1v-3zM517 754v3h1v-3zM517 760v3h1v-3zM517 766v3h1v-3zM517 772v3h1v-3zM517 778v3h1v-3zM517 784v3h1v-3zM517 790v3h1v-3z" fill="#5f5f5f"/>
<path d="M581 534v1h1v-1zM581 538v3h1v-3zM581 544v3h1v-3zM581 550v3h1v-3zM581 556v3h1v-3zM581 562v3h1v-3zM581 568v3h1v-3zM581 574v3h1v-3zM581 580v3h1v-3zM581 586v3h1v-3zM581 592v3h1v-3zM581 598v3h1v-3zM581 604v3h1v-3zM581 610v3h1v-3zM581 616v3h1v-3zM581 622v3h1v-3zM581 628v3h1v-3zM581 634v3h1v-3zM581 640v3h1v-3zM581 646v3h1v-3zM581 652v3h1v-3zM581 658v3h1v-3zM581 664v3h1v-3zM581 670v3h1v-3zM581 676v3h1v-3zM581 682v3h1v-3zM581 688v3h1v-3zM581 694v3h1v-3zM581 700v3h1v-3zM581 706v3h1v-3zM581 712v3h1v-3zM581 718v3h1v-3zM581 724v3h1v-3zM581 730v3h1v-3zM581 736v3h1v-3zM581 742v3h1v-3zM581 748v3h1v-3zM581 754v3h1v-3zM581 760v3h1v-3zM581 766v3h1v-3zM581 772v3h1v-3zM581 778v3h1v-3zM581 784v3h1v-3zM581 790v3h1v-3z" fill="#5f5f5f"/>
<path d="M645 534v1h1v-1zM645 538v3h1v-3zM645 544v3h1v-3zM645 550v3h1v-3zM645 556v3h1v-3zM645 562v3h1v-3zM645 568v3h1v-3zM645 574v3h1v-3zM645 580v3h1v-3zM645 586v3h1v-3zM645 592v3h1v-3zM645 598v3h1v-3zM645 604v3h1v-3zM645 610v3h1v-3zM645 616v3h1v-3zM645 622v3h1v-3zM645 628v3h1v-3zM645 634v3h1v-3zM645 640v3h1v-3zM645 646v3h1v-3zM645 652v3h1v-3zM645 658v3h1v-3zM645 664v3h1v-3zM645 670v3h1v-3zM645 676v3h1v-3zM645 682v3h1v-3zM645 688v3h1v-3zM645 694v3h1v-3zM645 700v3h1v-3zM645 706v3h1v-3zM645 712v3h1v-3zM645 718v3h1v-3zM645 724v3h1v-3zM645 730v3h1v-3zM645 736v3h1v-3zM645 742v3h1v-3zM645 748v3h1v-3zM645 754v3h1v-3zM645 760v3h1v-3zM645 766v3h1v-3zM645 772v3h1v-3zM645 778v3h1v-3zM645 784v3h1v-3zM645 790v3h1v-3z" fill="#5f5f5f"/>
<path d="M709 534v1h1v-1zM709 538v3h1v-3zM709 544v3h1v-3zM709 550v3h1v-3zM709 556v3h1v-3zM709 562v3h1v-3zM709 568v3h1v-3zM709 574v3h1v-3zM709 580v3h1v-3zM709 586v3h1v-3zM709 592v3h1v-3zM709 598v3h1v-3zM709 604v3h1v-3zM709 610v3h1v-3zM709 616v3h1v-3zM709 622v3h1v-3zM709 628v3h1v-3zM709 634v3h1v-3zM709 640v3h1v-3zM709 646v3h1v-3zM709 652v3h1v-3zM709 658v3h1v-3zM709 664v3h1v-3zM709 670v3h1v-3zM709 676v3h1v-3zM709 682v3h1v-3zM709 688v3h1v-3zM709 694v3h1v-3zM709 700v3h1v-3zM709 706v3h1v-3zM709 712v3h1v-3zM709 718v3h1v-3zM709 724v3h1v-3zM709 730v3h1v-3zM709 736v3h1v-3zM709 742v3h1v-3zM709 748v3h1v-3zM709 754v3h1v-3zM709 760v3h1v-3zM709 766v3h1v-3zM709 772v3h1v-3zM709 778v3h1v-3zM709 784v3h1v-3zM709 790v3h1v-3z" fill="#5f5f5f"/>
<path d="M773 534v1h1v-1zM773 538v3h1v-3zM773 544v3h1v-3zM773 550v3h1v-3zM773 556v3h1v-3zM773 562v3h1v-3zM773 568v3h1v-3zM773 574v3h1v-3zM773 580v3h1v-3zM773 586v3h1v-3zM773 592v3h1v-3zM773 598v3h1v-3zM773 604v3h1v-3zM773 610v3h1v-3zM773 616v3h1v-3zM773 622v3h1v-3zM773 628v3h1v-3zM773 634v3h1v-3zM773 640v3h1v-3zM773 646v3h1v-3zM773 652v3h1v-3zM773 658v3h1v-3zM773 664v3h1v-3zM773 670v3h1v-3zM773 676v3h1v-3zM773 682v3h1v-3zM773 688v3h1v-3zM773 694v3h1v-3zM773 700v3h1v-3zM773 706v3h1v-3zM773 712v3h1v-3zM773 718v3h1v-3zM773 724v3h1v-3zM773 730v3h1v-3zM773 736v3h1v-3zM773 742v3h1v-3zM773 748v3h1v-3zM773 754v3h1v-3zM773 760v3h1v-3zM773 766v3h1v-3zM773 772v3h1v-3zM773 778v3h1v-3zM773 784v3h1v-3zM773 790v3h1v-3z" fill="#5f5f5f"/>
<path d="M837 534v1h1v-1zM837 538v3h1v-3zM837 544v3h1v-3zM837 550v3h1v-3zM837 556v3h1v-3zM837 562v3h1v-3zM837 568v3h1v-3zM837 574v3h1v-3zM837 580v3h1v-3zM837 586v3h1v-3zM837 592v3h1v-3zM837 598v3h1v-3zM837 604v3h1v-3zM837 610v3h1v-3zM837 616v3h1v-3zM837 622v3h1v-3zM837 628v3h1v-3zM837 634v3h1v-3zM837 640v3h1v-3zM837 646v3h1v-3zM837 652v3h1v-3zM837 658v3h1v-3zM837 664v3h1v-3zM837 670v3h1v-3zM837 676v3h1v-3zM837 682v3h1v-3zM837 688v3h1v-3zM837 694v3h1v-3zM837 700v3h1v-3zM837 706v3h1v-3zM837 712v3h1v-3zM837 718v3h1v-3zM837 724v3h1v-3zM837 730v3h1v-3zM837 736v3h1v-3zM837 742v3h1v-3zM837 748v3h1v-3zM837 754v3h1v-3zM837 760v3h1v-3zM837 766v3h1v-3zM837 772v3h1v-3zM837 778v3h1v-3zM837 784v3h1v-3zM837 790v3h1v-3z" fill="#5f5f5f"/>
<path d="M901 534v1h1v-1zM901 538v3h1v-3zM901 544v3h1v-3zM901 550v3h1v-3zM901 556v3h1v-3zM901 562v3h1v-3zM901 568v3h1v-3zM901 574v3h1v-3zM901 580v3h1v-3zM901 586v3h1v-3zM901 592v3h1v-3zM901 598v3h1v-3zM901 604v3h1v-3zM901 610v3h1v-3zM901 616v3h1v-3zM901 622v3h1v-3zM901 628v3h1v-3zM901 634v3h1v-3zM901 640v3h1v-3zM901 646v3h1v-3zM901 652v3h1v-3zM901 658v3h1v-3zM901 664v3h1v-3zM901 670v3h1v-3zM901 676v3h1v-3zM901 682v3h1v-3zM901 688v3h1v-3zM901 694v3h1v-3zM901 700v3h1v-3zM901 706v3h1v-3zM901 712v3h1v-3zM901 718v3h1v-3zM901 724v3h1v-3zM901 730v3h1v-3zM901 736v3h1v-3zM901 742v3h1v-3zM901 748v3h1v-3zM901 754v3h1v-3zM901 760v3h1v-3zM901 766v3h1v-3zM901 772v3h1v-3zM901 778v3h1v-3zM901 784v3h1v-3zM901 790v3h1v-3z" fill="#5f5f5f"/>
<path d="M965 534v1h1v-1zM965 538v3h1v-3zM965 544v3h1v-3zM965 550v3h1v-3zM965 556v3h1v-3zM965 562v3h1v-3zM965 568v3h1v-3zM965 574v3h1v-3zM965 580v3h1v-3zM965 586v3h1v-3zM965 592v3h1v-3zM965 598v3h1v-3zM965 604v3h1v-3zM965 610v3h1v-3zM965 616v3h1v-3zM965 622v3h1v-3zM965 628v3h1v-3zM965 634v3h1v-3zM965 640v3h1v-3zM965 646v3h1v-3zM965 652v3h1v-3zM965 658v3h1v-3zM965 664v3h1v-3zM965 670v3h1v-3zM965 676v3h1v-3zM965 682v3h1v-3zM965 688v3h1v-3zM965 694v3h1v-3zM965 700v3h1v-3zM965 706v3h1v-3zM965 712v3h1v-3zM965 718v3h1v-3zM965 724v3h1v-3zM965 730v3h1v-3zM965 736v3h1v-3zM965 742v3h1v-3zM965 748v3h1v-3zM965 754v3h1v-3zM965 760v3h1v-3zM965 766v3h1v-3zM965 772v3h1v-3zM965 778v3h1v-3zM965 784v3h1v-3zM965 790v3h1v-3z" fill="#5f5f5f"/>
<path d="M1029 534v1h1v-1zM1029 538v3h1v-3zM1029 544v3h1v-3zM1029 550v3h1v-3zM1029 556v3h1v-3zM1029 562v3h1v-3zM1029 568v3h1v-3zM1029 574v3h1v-3zM1029 580v3h1v-3zM1029 586v3h1v-3zM1029 592v3h1v-3zM1029 598v3h1v-3zM1029 604v3h1v-3zM1029 610v3h1v-3zM1029 616v3h1v-3zM1029 622v3h1v-3zM1029 628v3h1v-3zM1029 634v3h1v-3zM1029 640v3h1v-3zM1029 646v3h1v-3zM1029 652v3h1v-3zM1029 658v3h1v-3zM1029 664v3h1v-3zM1029 670v3h1v-3zM1029 676v3h1v-3zM1029 682v3h1v-3zM1029 688v3h1v-3zM1029 694v3h1v-3zM1029 700v3h1v-3zM1029 706v3h1v-3zM1029 712v3h1v-3zM1029 718v3h1v-3zM1029 724v3h1v-3zM1029 730v3h1v-3zM1029 736v3h1v-3zM1029 742v3h1v-3zM1029 748v3h1v-3zM1029 754v3h1v-3zM1029 760v3h1v-3zM1029 766v3h1v-3zM1029 772v3h1v-3zM1029 778v3h1v-3zM1029 784v3h1v-3zM1029 790v3h1v-3z" fill="#5f5f5f"/>
<path d="M1093 534v1h1v-1zM1093 538v3h1v-3zM1093 544v3h1v-3zM1093 550v3h1v-3zM1093 556v3h1v-3zM1093 562v3h1v-3zM1093 568v3h1v-3zM1093 574v3h1v-3zM1093 580v3h1v-3zM1093 586v3h1v-3zM1093 592v3h1v-3zM1093 598v3h1v-3zM1093 604v3h1v-3zM1093 610v3h1v-3zM1093 616v3h1v-3zM1093 622v3h1v-3zM1093 628v3h1v-3zM1093 634v3h1v-3zM1093 640v3h1v-3zM1093 646v3h1v-3zM1093 652v3h1v-3zM1093 658v3h1v-3zM1093 664v3h1v-3zM1093 670v3h1v-3zM1093 676v3h1v-3zM1093 682v3h1v-3zM1093 688v3h1v-3zM1093 694v3h1v-3zM1093 700v3h1v-3zM1093 706v3h1v-3zM1093 712v3h1v-3zM1093 718v3h1v-3zM1093 724v3h1v-3zM1093 730v3h1v-3zM1093 736v3h1v-3zM1093 742v3h1v-3zM1093 748v3h1v-3zM1093 754v3h1v-3zM1093 760v3h1v-3zM1093 766v3h1v-3zM1093 772v3h1v-3zM1093 778v3h1v-3zM1093 784v3h1v-3zM1093 790v3h1v-3z" fill="#5f5f5f"/>
<path d="M1157 534v1h1v-1zM1157 538v3h1v-3zM1157 544v3h1v-3zM1157 550v3h1v-3zM1157 556v3h1v-3zM1157 562v3h1v-3zM1157 568v3h1v-3zM1157 574v3h1v-3zM1157 580v3h1v-3zM1157 586v3h1v-3zM1157 592v3h1v-3zM1157 598v3h1v-3zM1157 604v3h1v-3zM1157 610v3h1v-3zM1157 616v3h1v-3zM1157 622v3h1v-3zM1157 628v3h1v-3zM1157 634v3h1v-3zM1157 640v3h1v-3zM1157 646v3h1v-3zM1157 652v3h1v-3zM1157 658v3h1v-3zM1157 664v3h1v-3zM1157 670v3h1v-3zM1157 676v3h1v-3zM1157 682v3h1v-3zM1157 688v3h1v-3zM1157 694v3h1v-3zM1157 700v3h1v-3zM1157 706v3h1v-3zM1157 712v3h1v-3zM1157 718v3h1v-3zM1157 724v3h1v-3zM1157 730v3h1v-3zM1157 736v3h1v-3zM1157 742v3h1v-3zM1157 748v3h1v-3zM1157 754v3h1v-3zM1157 760v3h1v-3zM1157 766v3h1v-3zM1157 772v3h1v-3zM1157 778v3h1v-3zM1157 784v3h1v-3zM1157 790v3h1v-3z" fill="#5f5f5f"/>
<path d="M1221 534v1h1v-1zM1221 538v3h1v-3zM1221 544v3h1v-3zM1221 550v3h1v-3zM1221 556v3h1v-3zM1221 562v3h1v-3zM1221 568v3h1v-3zM1221 574v3h1v-3zM1221 580v3h1v-3zM1221 586v3h1v-3zM1221 592v3h1v-3zM1221 598v3h1v-3zM1221 604v3h1v-3zM1221 610v3h1v-3zM1221 616v3h1v-3zM1221 622v3h1v-3zM1221 628v3h1v-3zM1221 634v3h1v-3zM1221 640v3h1v-3zM1221 646v3h1v-3zM1221 652v3h1v-3zM1221 658v3h1v-3zM1221 664v3h1v-3zM1221 670v3h1v-3zM1221 676v3h1v-3zM1221 682v3h1v-3zM1221 688v3h1v-3zM1221 694v3h1v-3zM1221 700v3h1v-3zM1221 706v3h1v-3zM1221 712v3h1v-3zM1221 718v3h1v-3zM1221 724v3h1v-3zM1221 730v3h1v-3zM1221 736v3h1v-3zM1221 742v3h1v-3zM1221 748v3h1v-3zM1221 754v3h1v-3zM1221 760v3h1v-3zM1221 766v3h1v-3zM1221 772v3h1v-3zM1221 778v3h1v-3zM1221 784v3h1v-3zM1221 790v3h1v-3z" fill="#5f5f5f"/>
<path d="M1285 534v1h1v-1zM1285 538v3h1v-3zM1285 544v3h1v-3zM1285 550v3h1v-3zM1285 556v3h1v-3zM1285 562v3h1v-3zM1285 568v3h1v-3zM1285 574v3h1v-3zM1285 580v3h1v-3zM1285 586v3h1v-3zM1285 592v3h1v-3zM1285 598v3h1v-3zM1285 604v3h1v-3zM1285 610v3h1v-3zM1285 616v3h1v-3zM1285 622v3h1v-3zM1285 628v3h1v-3zM1285 634v3h1v-3zM1285 640v3h1v-3zM1285 646v3h1v-3zM1285 652v3h1v-3zM1285 658v3h1v-3zM1285 664v3h1v-3zM1285 670v3h1v-3zM1285 676v3h1v-3zM1285 682v3h1v-3zM1285 688v3h1v-3zM1285 694v3h1v-3zM1285 700v3h1v-3zM1285 706v3h1v-3zM1285 712v3h1v-3zM1285 718v3h1v-3zM1285 724v3h1v-3zM1285 730v3h1v-3zM1285 736v3h1v-3zM1285 742v3h1v-3zM1285 748v3h1v-3zM1285 754v3h1v-3zM1285 760v3h1v-3zM1285 766v3h1v-3zM1285 772v3h1v-3zM1285 778v3h1v-3zM1285 784v3h1v-3zM1285 790v3h1v-3z" fill="#5f5f5f"/>
<path d="M1349 534v1h1v-1zM1349 538v3h1v-3zM1349 544v3h1v-3zM1349 550v3h1v-3zM1349 556v3h1v-3zM1349 562v3h1v-3zM1349 568v3h1v-3zM1349 574v3h1v-3zM1349 580v3h1v-3zM1349 586v3h1v-3zM1349 592v3h1v-3zM1349 598v3h1v-3zM1349 604v3h1v-3zM1349 610v3h1v-3zM1349 616v3h1v-3zM1349 622v3h1v-3zM1349 628v3h1v-3zM1349 634v3h1v-3zM1349 640v3h1v-3zM1349 646v3h1v-3zM1349 652v3h1v-3zM1349 658v3h1v-3zM1349 664v3h1v-3zM1349 670v3h1v-3zM1349 676v3h1v-3zM1349 682v3h1v-3zM1349 688v3h1v-3zM1349 694v3h1v-3zM1349 700v3h1v-3zM1349 706v3h1v-3zM1349 712v3h1v-3zM1349 718v3h1v-3zM1349 724v3h1v-3zM1349 730v3h1v-3zM1349 736v3h1v-3zM1349 742v3h1v-3zM1349 748v3h1v-3zM1349 754v3h1v-3zM1349 760v3h1v-3zM1349 766v3h1v-3zM1349 772v3h1v-3zM1349 778v3h1v-3zM1349 784v3h1v-3zM1349 790v3h1v-3z" fill="#5f5f5f"/>
<path d="M1413 534v1h1v-1zM1413 538v3h1v-3zM1413 544v3h1v-3zM1413 550v3h1v-3zM1413 556v3h1v-3zM1413 562v3h1v-3zM1413 568v3h1v-3zM1413 574v3h1v-3zM1413 580v3h1v-3zM1413 586v3h1v-3zM1413 592v3h1v-3zM1413 598v3h1v-3zM1413 604v3h1v-3zM1413 610v3h1v-3zM1413 616v3h1v-3zM1413 622v3h1v-3zM1413 628v3h1v-3zM1413 634v3h1v-3zM1413 640v3h1v-3zM1413 646v3h1v-3zM1413 652v3h1v-3zM1413 658v3h1v-3zM1413 664v3h1v-3zM1413 670v3h1v-3zM1413 676v3h1v-3zM1413 682v3h1v-3zM1413 688v3h1v-3zM1413 694v3h1v-3zM1413 700v3h1v-3zM1413 706v3h1v-3zM1413 712v3h1v-3zM1413 718v3h1v-3zM1413 724v3h1v-3zM1413 730v3h1v-3zM1413 736v3h1v-3zM1413 742v3h1v-3zM1413 748v3h1v-3zM1413 754v3h1v-3zM1413 760v3h1v-3zM1413 766v3h1v-3zM1413 772v3h1v-3zM1413 778v3h1v-3zM1413 784v3h1v-3zM1413 790v3h1v-3z" fill="#5f5f5f"/>
<path d="M1477 534v1h1v-1zM1477 538v3h1v-3zM1477 544v3h1v-3zM1477 550v3h1v-3zM1477 556v3h1v-3zM1477 562v3h1v-3zM1477 568v3h1v-3zM1477 574v3h1v-3zM1477 580v3h1v-3zM1477 586v3h1v-3zM1477 592v3h1v-3zM1477 598v3h1v-3zM1477 604v3h1v-3zM1477 610v3h1v-3zM1477 616v3h1v-3zM1477 622v3h1v-3zM1477 628v3h1v-3zM1477 634v3h1v-3zM1477 640v3h1v-3zM1477 646v3h1v-3zM1477 652v3h1v-3zM1477 658v3h1v-3zM1477 664v3h1v-3zM1477 670v3h1v-3zM1477 676v3h1v-3zM1477 682v3h1v-3zM1477 688v3h1v-3zM1477 694v3h1v-3zM1477 700v3h1v-3zM1477 706v3h1v-3zM1477 712v3h1v-3zM1477 718v3h1v-3zM1477 724v3h1v-3zM1477 730v3h1v-3zM1477 736v3h1v-3zM1477 742v3h1v-3zM1477 748v3h1v-3zM1477 754v3h1v-3zM1477 760v3h1v-3zM1477 766v3h1v-3zM1477 772v3h1v-3zM1477 778v3h1v-3zM1477 784v3h1v-3zM1477 790v3h1v-3z" fill="#5f5f5f"/>
<rect x="4" y="650" width="3" height="145" fill="#00ff00"/>
<rect x="20" y="637" width="3" height="158" fill="#00ff00"/>
<rect x="36" y="623" width="3" height="172" fill="#00ff00"/>
<rect x="52" y="610" width="3" height="185" fill="#00ff00"/>
<rect x="68" y="591" width="3" height="204" fill="#00ff00"/>
<rect x="84" y="593" width="3" height="202" fill="#00ff00"/>
<rect x="100" y="593" width="3" height="202" fill="#00ff00"/>
<rect x="116" y="577" width="3" height="218" fill="#00ff00"/>
<rect x="132" y="586" width="3" height="209" fill="#00ff00"/>
<rect x="148" y="587" width="3" height="208" fill="#00ff00"/>
<rect x="164" y="578" width="3" height="217" fill="#00ff00"/>
<rect x="180" y="586" width="3" height="209" fill="#00ff00"/>
<rect x="196" y="592" width="3" height="203" fill="#00ff00"/>
<rect x="212" y="607" width="3" height="188" fill="#00ff00"/>
<rect x="228" y="617" width="3" height="178" fill="#00ff00"/>
<rect x="244" y="628" width="3" height="167" fill="#00ff00"/>
<rect x="260" y="629" width="3" height="166" fill="#00ff00"/>
<rect x="276" y="616" width="3" height="179" fill="#00ff00"/>
<rect x="292" y="606" width="3" height="189" fill="#00ff00"/>
<rect x="308" y="626" width="3" height="169" fill="#00ff00"/>
<rect x="324" y="644" width="3" height="151" fill="#00ff00"/>
<rect x="340" y="662" width="3" height="133" fill="#00ff00"/>
<rect x="356" y="669" width="3" height="126" fill="#00ff00"/>
<rect x="372" y="708" width="3" height="87" fill="#00ff00"/>
<rect x="388" y="755" width="3" height="40" fill="#00ff00"/>
<rect x="404" y="774" width="3" height="21" fill="#00ff00"/>
<rect x="420" y="756" width="3" height="39" fill="#00ff00"/>
<rect x="436" y="730" width="3" height="65" fill="#00ff00"/>
<rect x="452" y="693" width="3" height="102" fill="#00ff00"/>
<rect x="468" y="643" width="3" height="152" fill="#00ff00"/>
<rect x="484" y="637" width="3" height="158" fill="#00ff00"/>
<rect x="500" y="631" width="3" height="164" fill="#00ff00"/>
<rect x="516" y="622" width="3" height="173" fill="#00ff00"/>
<rect x="532" y="635" width="3" height="160" fill="#00ff00"/>
<rect x="548" y="651" width="3" height="144" fill="#00ff00"/>
<rect x="564" y="651" width="3" height="144" fill="#00ff00"/>
<rect x="580" y="659" width="3" height="136" fill="#00ff00"/>
<rect x="596" y="654" width="3" height="141" fill="#00ff00"/>
<rect x="612" y="646" width="3" height="149" fill="#00ff00"/>
<rect x="628" y="645" width="3" height="150" fill="#00ff00"/>
<rect x="644" y="633" width="3" height="162" fill="#00ff00"/>
<rect x="660" y="624" width="3" height="171" fill="#00ff00"/>
<rect x="676" y="627" width="3" height="168" fill="#00ff00"/>
<rect x="692" y="626" width="3" height="169" fill="#00ff00"/>
<rect x="708" y="619" width="3" height="176" fill="#00ff00"/>
<rect x="724" y="633" width="3" height="162" fill="#00ff00"/>
<rect x="740" y="640" width="3" height="155" fill="#00ff00"/>
<rect x="756" y="650" width="3" height="145" fill="#00ff00"/>
<rect x="772" y="664" width="3" height="131" fill="#00ff00"/>
<rect x="788" y="682" width="3" height="113" fill="#00ff00"/>
<rect x="804" y="708" width="3" height="87" fill="#00ff00"/>
<rect x="820" y="723" width="3" height="72" fill="#00ff00"/>
<rect x="836" y="728" width="3" height="67" fill="#00ff00"/>
<rect x="852" y="716" width="3" height="79" fill="#00ff00"/>
<rect x="868" y="703" width="3" height="92" fill="#00ff00"/>
<rect x="884" y="681" width="3" height="114" fill="#00ff00"/>
<rect x="900" y="672" width="3" height="123" fill="#00ff00"/>
<rect x="916" y="655" width="3" height="140" fill="#00ff00"/>
<rect x="932" y="640" width="3" height="155" fill="#00ff00"/>
<rect x="948" y="604" width="3" height="191" fill="#00ff00"/>
<rect x="964" y="580" width="3" height="215" fill="#00ff00"/>
<rect x="980" y="566" width="3" height="229" fill="#00ff00"/>
<rect x="996" y="561" width="3" height="234" fill="#00ff00"/>
<rect x="1012" y="569" width="3" height="226" fill="#00ff00"/>
<rect x="1028" y="568" width="3" height="227" fill="#00ff00"/>
<rect x="1044" y="562" width="3" height="233" fill="#00ff00"/>
<rect x="1060" y="546" width="3" height="249" fill="#00ff00"/>
<rect x="1076" y="546" width="3" height="249" fill="#00ff00"/>
<rect x="1092" y="553" width="3" height="242" fill="#00ff00"/>
<rect x="1108" y="560" width="3" height="235" fill="#00ff00"/>
<rect x="1124" y="578" width="3" height="217" fill="#00ff00"/>
<rect x="1140" y="577" width="3" height="218" fill="#00ff00"/>
<rect x="1156" y="566" width="3" height="229" fill="#00ff00"/>
<rect x="1172" y="562" width="3" height="233" fill="#00ff00"/>
<rect x="1188" y="568" width="3" height="227" fill="#00ff00"/>
<path d="M6 795h3v1h-3zM12 795h3v1h-3zM18 795h3v1h-3zM24 795h3v1h-3zM30 795h3v1h-3zM36 795h3v1h-3zM42 795h3v1h-3zM48 795h3v1h-3zM54 795h3v1h-3zM60 795h3v1h-3zM66 795h3v1h-3zM72 795h3v1h-3zM78 795h3v1h-3zM84 795h3v1h-3zM90 795h3v1h-3zM96 795h3v1h-3zM102 795h3v1h-3zM108 795h3v1h-3zM114 795h3v1h-3zM120 795h3v1h-3zM126 795h3v1h-3zM132 795h3v1h-3zM138 795h3v1h-3zM144 795h3v1h-3zM150 795h3v1h-3zM156 795h3v1h-3zM162 795h3v1h-3zM168 795h3v1h-3zM174 795h3v1h-3zM180 795h3v1h-3zM186 795h3v1h-3zM192 795h3v1h-3zM198 795h3v1h-3zM204 795h3v1h-3zM210 795h3v1h-3zM216 795h3v1h-3zM222 795h3v1h-3zM228 795h3v1h-3zM234 795h3v1h-3zM240 795h3v1h-3zM246 795h3v1h-3zM252 795h3v1h-3zM258 795h3v1h-3zM264 795h3v1h-3zM270 795h3v1h-3zM276 795h3v1h-3zM282 795h3v1h-3zM288 795h3v1h-3zM294 795h3v1h-3zM300 795h3v1h-3zM306 795h3v1h-3zM312 795h3v1h-3zM318 795h3v1h-3zM324 795h3v1h-3zM330 795h3v1h-3zM336 795h3v1h-3zM342 795h3v1h-3zM348 795h3v1h-3zM354 795h3v1h-3zM360 795h3v1h-3zM366 795h3v1h-3zM372 795h3v1h-3zM378 795h3v1h-3zM384 795h3v1h-3zM390 795h3v1h-3zM396 795h3v1h-3zM402 795h3v1h-3zM408 795h3v1h-3zM414 795h3v1h-3zM420 795h3v1h-3zM426 795h3v1h-3zM432 795h3v1h-3zM438 795h3v1h-3zM444 795h3v1h-3zM450 795h3v1h-3zM456 795h3v1h-3zM462 795h3v1h-3zM468 795h3v1h-3zM474 795h3v1h-3zM480 795h3v1h-3zM486 795h3v1h-3zM492 795h3v1h-3zM498 795h3v1h-3zM504 795h3v1h-3zM510 795h3v1h-3zM516 795h3v1h-3zM522 795h3v1h-3zM528 795h3v1h-3zM534 795h3v1h-3zM540 795h3v1h-3zM546 795h3v1h-3zM552 795h3v1h-3zM558 795h3v1h-3zM564 795h3v1h-3zM570 795h3v1h-3zM576 795h3v1h-3zM582 795h3v1h-3zM588 795h3v1h-3zM594 795h3v1h-3zM600 795h3v1h-3zM606 795h3v1h-3zM612 795h3v1h-3zM618 795h3v1h-3zM624 795h3v1h-3zM630 795h3v1h-3zM636 795h3v1h-3zM642 795h3v1h-3zM648 795h3v1h-3zM654 795h3v1h-3zM660 795h3v1h-3zM666 795h3v1h-3zM672 795h3v1h-3zM678 795h3v1h-3zM684 795h3v1h-3zM690 795h3v1h-3zM696 795h3v1h-3zM702 795h3v1h-3zM708 795h3v1h-3zM714 795h3v1h-3zM720 795h3v1h-3zM726 795h3v1h-3zM732 795h3v1h-3zM738 795h3v1h-3zM744 795h3v1h-3zM750 795h3v1h-3zM756 795h3v1h-3zM762 795h3v1h-3zM768 795h3v1h-3zM774 795h3v1h-3zM780 795h3v1h-3zM786 795h3v1h-3zM792 795h3v1h-3zM798 795h3v1h-3zM804 795h3v1h-3zM810 795h3v1h-3zM816 795h3v1h-3zM822 795h3v1h-3zM828 795h3v1h-3zM834 795h3v1h-3zM840 795h3v1h-3zM846 795h3v1h-3zM852 795h3v1h-3zM858 795h3v1h-3zM864 795h3v1h-3zM870 795h3v1h-3zM876 795h3v1h-3zM882 795h3v1h-3zM888 795h3v1h-3zM894 795h3v1h-3zM900 795h3v1h-3zM906 795h3v1h-3zM912 795h3v1h-3zM918 795h3v1h-3zM924 795h3v1h-3zM930 795h3v1h-3zM936 795h3v1h-3zM942 795h3v1h-3zM948 795h3v1h-3zM954 795h3v1h-3zM960 795h3v1h-3zM966 795h3v1h-3zM972 795h3v1h-3zM978 795h3v1h-3zM984 795h3v1h-3zM990 795h3v1h-3zM996 795h3v1h-3zM1002 795h3v1h-3zM1008 795h3v1h-3zM1014 795h3v1h-3zM1020 795h3v1h-3zM1026 795h3v1h-3zM1032 795h3v1h-3zM1038 795h3v1h-3zM1044 795h3v1h-3zM1050 795h3v1h-3zM1056 795h3v1h-3zM1062 795h3v1h-3zM1068 795h3v1h-3zM1074 795h3v1h-3zM1080 795h3v1h-3zM1086 795h3v1h-3zM1092 795h3v1h-3zM1098 795h3v1h-3zM1104 795h3v1h-3zM1110 795h3v1h-3zM1116 795h3v1h-3zM1122 795h3v1h-3zM1128 795h3v1h-3zM1134 795h3v1h-3zM1140 795h3v1h-3zM1146 795h3v1h-3zM1152 795h3v1h-3zM1158 795h3v1h-3zM1164 795h3v1h-3zM1170 795h3v1h-3zM1176 795h3v1h-3zM1182 795h3v1h-3zM1188 795h3v1h-3zM1194 795h3v1h-3zM1200 795h3v1h-3zM1206 795h3v1h-3zM1212 795h3v1h-3zM1218 795h3v1h-3zM1224 795h3v1h-3zM1230 795h3v1h-3zM1236 795h3v1h-3zM1242 795h3v1h-3zM1248 795h3v1h-3zM1254 795h3v1h-3zM1260 795h3v1h-3zM1266 795h3v1h-3zM1272 795h3v1h-3zM1278 795h3v1h-3zM1284 795h3v1h-3zM1290 795h3v1h-3zM1296 795h3v1h-3zM1302 795h3v1h-3zM1308 795h3v1h-3zM1314 795h3v1h-3zM1320 795h3v1h-3zM1326 795h3v1h-3zM1332 795h3v1h-3zM1338 795h3v1h-3zM1344 795h3v1h-3zM1350 795h3v1h-3zM1356 795h3v1h-3zM1362 795h3v1h-3zM1368 795h3v1h-3zM1374 795h3v1h-3zM1380 795h3v1h-3zM1386 795h3v1h-3zM1392 795h3v1h-3zM1398 795h3v1h-3zM1404 795h3v1h-3zM1410 795h3v1h-3zM1416 795h3v1h-3zM1422 795h3v1h-3zM1428 795h3v1h-3zM1434 795h3v1h-3zM1440 795h3v1h-3zM1446 795h3v1h-3zM1452 795h3v1h-3zM1458 795h3v1h-3zM1464 795h3v1h-3zM1470 795h3v1h-3zM1476 795h3v1h-3zM1482 795h3v1h-3zM1488 795h3v1h-3zM1494 795h3v1h-3zM1500 795h3v1h-3zM1506 795h3v1h-3zM1512 795h3v1h-3zM1518 795h2v1h-2z" fill="#5f5f5f"/>
</g>
<polyline points="5.5,679 21.5,674 37.5,668 53.5,659 69.5,649 85.5,639 101.5,629 117.5,617 133.5,607.5 149.5,601 165.5,594 181.5,589 197.5,588 213.5,589 229.5,591.3 245.5,596 261.5,601.5 277.5,604 293.5,606 309.5,611.6 325.5,618 341.5,626.9 357.5,633.3 373.5,643.3 389.5,656.2 405.5,674 421.5,690.6 437.5,703.3 453.5,709 469.5,709.7 485.5,708 501.5,703.1 517.5,694.5 533.5,680 549.5,668 565.5,656.3 581.5,647 597.5,643 613.5,643 629.5,644 645.5,644 661.5,644 677.5,643 693.5,642 709.5,637.5 725.5,634.5 741.5,633 757.5,633.4 773.5,635.3 789.5,640.3 805.5,651.4 821.5,660 837.5,671 853.5,683.4 869.5,690.8 885.5,695.4 901.5,697.2 917.5,697 933.5,693 949.5,681.5 965.5,665 981.5,647.5 997.5,629.5 1013.5,614.4 1029.5,603 1045.5,588.8 1061.5,577.5 1077.5,567.5 1093.5,561.5 1109.5,560.3 1125.5,561.5 1141.5,562 1157.5,562 1173.5,562 1189.5,562" fill="none" stroke="#ff0000" stroke-width="2" shape-rendering="crispEdges" stroke-linejoin="round"/>
<rect x="4" y="533" width="1517" height="263" fill="none" stroke="#000" stroke-width="1" transform="translate(0.5 0.5)"/>
<rect x="1522" y="41" width="2" height="1" fill="#000"/>
<rect x="1522" y="106" width="2" height="1" fill="#000"/>
<rect x="1522" y="171" width="2" height="1" fill="#000"/>
<rect x="1522" y="236" width="2" height="1" fill="#000"/>
<rect x="1522" y="301" width="2" height="1" fill="#000"/>
<rect x="1522" y="366" width="2" height="1" fill="#000"/>
<rect x="1522" y="431" width="2" height="1" fill="#000"/>
<rect x="1522" y="496" width="2" height="1" fill="#000"/>
<rect x="1522" y="535" width="2" height="1" fill="#000"/>
<rect x="5" y="797" width="1" height="3" fill="#000"/>
<rect x="133" y="797" width="1" height="3" fill="#000"/>
<rect x="261" y="797" width="1" height="3" fill="#000"/>
<rect x="389" y="797" width="1" height="3" fill="#000"/>
<rect x="517" y="797" width="1" height="3" fill="#000"/>
<rect x="645" y="797" width="1" height="3" fill="#000"/>
<rect x="773" y="797" width="1" height="3" fill="#000"/>
<rect x="901" y="797" width="1" height="3" fill="#000"/>
<rect x="1029" y="797" width="1" height="3" fill="#000"/>
<rect x="1157" y="797" width="1" height="3" fill="#000"/>
<rect x="1285" y="797" width="1" height="3" fill="#000"/>
<rect x="1413" y="797" width="1" height="3" fill="#000"/>
<g font-size="14" fill="#000" shape-rendering="geometricPrecision">
<text x="1528" y="47" letter-spacing="0.4">4490.0</text>
<text x="1528" y="112" letter-spacing="0.4">4431.5</text>
<text x="1528" y="177" letter-spacing="0.4">4372.5</text>
<text x="1528" y="242" letter-spacing="0.4">4314.0</text>
<text x="1528" y="307" letter-spacing="0.4">4255.5</text>
<text x="1528" y="372" letter-spacing="0.4">4197.0</text>
<text x="1528" y="437" letter-spacing="0.4">4138.5</text>
<text x="1528" y="502" letter-spacing="0.4">4080.0</text>
<rect x="1523" y="66" width="54" height="17" fill="#000"/>
<text x="1528" y="80" letter-spacing="0.4" fill="#fff">4460.7</text>
<rect x="1521" y="155" width="3" height="5" fill="#ff8c00"/><rect x="1523" y="151" width="54" height="17" fill="#ff8c00"/>
<text x="1528" y="165" letter-spacing="0.4" fill="#fff">4385.7</text>
<rect x="1521" y="178" width="3" height="5" fill="#ff8c00"/><rect x="1523" y="174" width="54" height="17" fill="#ff8c00"/>
<text x="1528" y="188" letter-spacing="0.4" fill="#fff">4365.2</text>
<text x="1524" y="549" letter-spacing="0.667">50.8</text>
<text x="1525" y="792" letter-spacing="0">0</text>
<text x="8" y="551" letter-spacing="0.0">MACD(12,26,9)</text>
<text x="108" y="551" letter-spacing="0.25">44.29</text>
<text x="148" y="551" letter-spacing="0.25">45.49</text>
<text x="26" y="21" letter-spacing="-0.454">CHINA300-,H1</text>
<text x="123" y="21" letter-spacing="0.2">4480.4</text>
<text x="171" y="21" letter-spacing="0.4">4499.6</text>
<text x="219" y="21" letter-spacing="0.4">4451.6</text>
<text x="267" y="21" letter-spacing="0.4">4460.7</text>
<text x="4" y="814" letter-spacing="0.122">6 Jun 2022</text>
<text x="132" y="814" letter-spacing="0.2">8 Jun 02:30</text>
<text x="260" y="814" letter-spacing="0.173">10 Jun 02:30</text>
<text x="389" y="814" letter-spacing="0.082">14 Jun 02:30</text>
<text x="516" y="814" letter-spacing="0.173">16 Jun 02:30</text>
<text x="644" y="814" letter-spacing="0.173">20 Jun 02:30</text>
<text x="772" y="814" letter-spacing="0.173">22 Jun 02:30</text>
<text x="900" y="814" letter-spacing="0.173">24 Jun 02:30</text>
<text x="1028" y="814" letter-spacing="0.173">28 Jun 02:30</text>
<text x="1156" y="814" letter-spacing="0.173">30 Jun 02:30</text>
</g>
<polygon points="8,12 19,12 13.5,18" fill="#000" shape-rendering="geometricPrecision"/>
</svg></body></html>
